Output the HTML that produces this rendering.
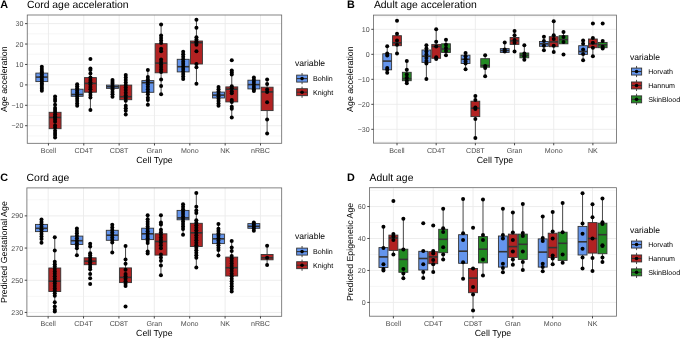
<!DOCTYPE html>
<html><head><meta charset="utf-8"><style>
html,body{margin:0;padding:0;background:#fff;}
body{width:685px;height:338px;overflow:hidden;}
svg{display:block;font-family:"Liberation Sans", sans-serif;filter:blur(0.3px);text-rendering:geometricPrecision;}
</style></head><body>
<svg width="685" height="338" viewBox="0 0 685 338">
<rect width="685" height="338" fill="#fff"/>
<line x1="27.25" y1="33.83" x2="281.7" y2="33.83" stroke="#EBEBEB" stroke-width="0.45"/>
<line x1="27.25" y1="54.25" x2="281.7" y2="54.25" stroke="#EBEBEB" stroke-width="0.45"/>
<line x1="27.25" y1="74.67" x2="281.7" y2="74.67" stroke="#EBEBEB" stroke-width="0.45"/>
<line x1="27.25" y1="95.09" x2="281.7" y2="95.09" stroke="#EBEBEB" stroke-width="0.45"/>
<line x1="27.25" y1="115.51" x2="281.7" y2="115.51" stroke="#EBEBEB" stroke-width="0.45"/>
<line x1="27.25" y1="135.93" x2="281.7" y2="135.93" stroke="#EBEBEB" stroke-width="0.45"/>
<line x1="27.25" y1="23.62" x2="281.7" y2="23.62" stroke="#EBEBEB" stroke-width="0.9"/>
<line x1="27.25" y1="44.04" x2="281.7" y2="44.04" stroke="#EBEBEB" stroke-width="0.9"/>
<line x1="27.25" y1="64.46" x2="281.7" y2="64.46" stroke="#EBEBEB" stroke-width="0.9"/>
<line x1="27.25" y1="84.88" x2="281.7" y2="84.88" stroke="#EBEBEB" stroke-width="0.9"/>
<line x1="27.25" y1="105.3" x2="281.7" y2="105.3" stroke="#EBEBEB" stroke-width="0.9"/>
<line x1="27.25" y1="125.72" x2="281.7" y2="125.72" stroke="#EBEBEB" stroke-width="0.9"/>
<line x1="48.45" y1="15" x2="48.45" y2="143.3" stroke="#EBEBEB" stroke-width="0.9"/>
<line x1="83.79" y1="15" x2="83.79" y2="143.3" stroke="#EBEBEB" stroke-width="0.9"/>
<line x1="119.13" y1="15" x2="119.13" y2="143.3" stroke="#EBEBEB" stroke-width="0.9"/>
<line x1="154.48" y1="15" x2="154.48" y2="143.3" stroke="#EBEBEB" stroke-width="0.9"/>
<line x1="189.82" y1="15" x2="189.82" y2="143.3" stroke="#EBEBEB" stroke-width="0.9"/>
<line x1="225.16" y1="15" x2="225.16" y2="143.3" stroke="#EBEBEB" stroke-width="0.9"/>
<line x1="260.5" y1="15" x2="260.5" y2="143.3" stroke="#EBEBEB" stroke-width="0.9"/>
<line x1="41.83" y1="66.8" x2="41.83" y2="73.1" stroke="#333333" stroke-width="0.9"/>
<line x1="41.83" y1="81.6" x2="41.83" y2="90.8" stroke="#333333" stroke-width="0.9"/>
<rect x="35.86" y="73.1" width="11.93" height="8.5" fill="#6495ED" stroke="#333333" stroke-width="0.9"/>
<line x1="35.86" y1="77.1" x2="47.79" y2="77.1" stroke="#333333" stroke-width="1.6"/>
<line x1="55.08" y1="96.6" x2="55.08" y2="112.3" stroke="#333333" stroke-width="0.9"/>
<line x1="55.08" y1="128.7" x2="55.08" y2="137.6" stroke="#333333" stroke-width="0.9"/>
<rect x="49.12" y="112.3" width="11.93" height="16.4" fill="#B22222" stroke="#333333" stroke-width="0.9"/>
<line x1="49.12" y1="117.5" x2="61.04" y2="117.5" stroke="#333333" stroke-width="1.6"/>
<line x1="77.17" y1="84.2" x2="77.17" y2="89.2" stroke="#333333" stroke-width="0.9"/>
<line x1="77.17" y1="96.3" x2="77.17" y2="105.7" stroke="#333333" stroke-width="0.9"/>
<rect x="71.2" y="89.2" width="11.93" height="7.1" fill="#6495ED" stroke="#333333" stroke-width="0.9"/>
<line x1="71.2" y1="94.5" x2="83.13" y2="94.5" stroke="#333333" stroke-width="1.6"/>
<line x1="90.42" y1="68.4" x2="90.42" y2="77.6" stroke="#333333" stroke-width="0.9"/>
<line x1="90.42" y1="92.2" x2="90.42" y2="109.9" stroke="#333333" stroke-width="0.9"/>
<rect x="84.46" y="77.6" width="11.93" height="14.6" fill="#B22222" stroke="#333333" stroke-width="0.9"/>
<line x1="84.46" y1="83.4" x2="96.38" y2="83.4" stroke="#333333" stroke-width="1.6"/>
<line x1="112.51" y1="80.1" x2="112.51" y2="85.1" stroke="#333333" stroke-width="0.9"/>
<line x1="112.51" y1="88.4" x2="112.51" y2="96.7" stroke="#333333" stroke-width="0.9"/>
<rect x="106.54" y="85.1" width="11.93" height="3.3" fill="#6495ED" stroke="#333333" stroke-width="0.9"/>
<line x1="106.54" y1="86.7" x2="118.47" y2="86.7" stroke="#333333" stroke-width="1.6"/>
<line x1="125.76" y1="75.1" x2="125.76" y2="85.1" stroke="#333333" stroke-width="0.9"/>
<line x1="125.76" y1="99.7" x2="125.76" y2="114.6" stroke="#333333" stroke-width="0.9"/>
<rect x="119.8" y="85.1" width="11.93" height="14.6" fill="#B22222" stroke="#333333" stroke-width="0.9"/>
<line x1="119.8" y1="96.7" x2="131.72" y2="96.7" stroke="#333333" stroke-width="1.6"/>
<line x1="147.85" y1="70" x2="147.85" y2="80.6" stroke="#333333" stroke-width="0.9"/>
<line x1="147.85" y1="92.3" x2="147.85" y2="104.8" stroke="#333333" stroke-width="0.9"/>
<rect x="141.89" y="80.6" width="11.93" height="11.7" fill="#6495ED" stroke="#333333" stroke-width="0.9"/>
<line x1="141.89" y1="82.7" x2="153.81" y2="82.7" stroke="#333333" stroke-width="1.6"/>
<line x1="161.1" y1="24.6" x2="161.1" y2="43.7" stroke="#333333" stroke-width="0.9"/>
<line x1="161.1" y1="72.8" x2="161.1" y2="94.3" stroke="#333333" stroke-width="0.9"/>
<rect x="155.14" y="43.7" width="11.93" height="29.1" fill="#B22222" stroke="#333333" stroke-width="0.9"/>
<line x1="155.14" y1="63.1" x2="167.06" y2="63.1" stroke="#333333" stroke-width="1.6"/>
<line x1="183.19" y1="51.8" x2="183.19" y2="59.3" stroke="#333333" stroke-width="0.9"/>
<line x1="183.19" y1="71.9" x2="183.19" y2="78.9" stroke="#333333" stroke-width="0.9"/>
<rect x="177.23" y="59.3" width="11.93" height="12.6" fill="#6495ED" stroke="#333333" stroke-width="0.9"/>
<line x1="177.23" y1="66.7" x2="189.15" y2="66.7" stroke="#333333" stroke-width="1.6"/>
<line x1="196.44" y1="19.8" x2="196.44" y2="41" stroke="#333333" stroke-width="0.9"/>
<line x1="196.44" y1="64" x2="196.44" y2="83.8" stroke="#333333" stroke-width="0.9"/>
<rect x="190.48" y="41" width="11.93" height="23" fill="#B22222" stroke="#333333" stroke-width="0.9"/>
<line x1="190.48" y1="42.7" x2="202.41" y2="42.7" stroke="#333333" stroke-width="1.6"/>
<line x1="218.53" y1="86.9" x2="218.53" y2="92.1" stroke="#333333" stroke-width="0.9"/>
<line x1="218.53" y1="98" x2="218.53" y2="105.8" stroke="#333333" stroke-width="0.9"/>
<rect x="212.57" y="92.1" width="11.93" height="5.9" fill="#6495ED" stroke="#333333" stroke-width="0.9"/>
<line x1="212.57" y1="95.1" x2="224.49" y2="95.1" stroke="#333333" stroke-width="1.6"/>
<line x1="231.78" y1="70.6" x2="231.78" y2="86.9" stroke="#333333" stroke-width="0.9"/>
<line x1="231.78" y1="101.9" x2="231.78" y2="117.5" stroke="#333333" stroke-width="0.9"/>
<rect x="225.82" y="86.9" width="11.93" height="15" fill="#B22222" stroke="#333333" stroke-width="0.9"/>
<line x1="225.82" y1="89.2" x2="237.75" y2="89.2" stroke="#333333" stroke-width="1.6"/>
<line x1="253.87" y1="77.4" x2="253.87" y2="80.2" stroke="#333333" stroke-width="0.9"/>
<line x1="253.87" y1="88.9" x2="253.87" y2="91.1" stroke="#333333" stroke-width="0.9"/>
<rect x="247.91" y="80.2" width="11.93" height="8.7" fill="#6495ED" stroke="#333333" stroke-width="0.9"/>
<line x1="247.91" y1="84.6" x2="259.83" y2="84.6" stroke="#333333" stroke-width="1.6"/>
<line x1="267.12" y1="79.4" x2="267.12" y2="87.2" stroke="#333333" stroke-width="0.9"/>
<line x1="267.12" y1="110.6" x2="267.12" y2="133.5" stroke="#333333" stroke-width="0.9"/>
<rect x="261.16" y="87.2" width="11.93" height="23.4" fill="#B22222" stroke="#333333" stroke-width="0.9"/>
<line x1="261.16" y1="91.9" x2="273.09" y2="91.9" stroke="#333333" stroke-width="1.6"/>
<circle cx="41.83" cy="66.8" r="2.0" fill="#000"/>
<circle cx="41.83" cy="68.9" r="2.0" fill="#000"/>
<circle cx="41.83" cy="71" r="2.0" fill="#000"/>
<circle cx="41.83" cy="72.6" r="2.0" fill="#000"/>
<circle cx="41.83" cy="74.4" r="2.0" fill="#000"/>
<circle cx="41.83" cy="76.2" r="2.0" fill="#000"/>
<circle cx="41.83" cy="78" r="2.0" fill="#000"/>
<circle cx="41.83" cy="79.8" r="2.0" fill="#000"/>
<circle cx="41.83" cy="81.6" r="2.0" fill="#000"/>
<circle cx="41.83" cy="83.4" r="2.0" fill="#000"/>
<circle cx="41.83" cy="85" r="2.0" fill="#000"/>
<circle cx="41.83" cy="86.93" r="2.0" fill="#000"/>
<circle cx="41.83" cy="88.87" r="2.0" fill="#000"/>
<circle cx="41.83" cy="90.8" r="2.0" fill="#000"/>
<circle cx="55.08" cy="96.6" r="2.0" fill="#000"/>
<circle cx="55.08" cy="98.9" r="2.0" fill="#000"/>
<circle cx="55.08" cy="101.1" r="2.0" fill="#000"/>
<circle cx="55.08" cy="104.8" r="2.0" fill="#000"/>
<circle cx="55.08" cy="108" r="2.0" fill="#000"/>
<circle cx="55.08" cy="110" r="2.0" fill="#000"/>
<circle cx="55.08" cy="112" r="2.0" fill="#000"/>
<circle cx="55.08" cy="114.25" r="2.0" fill="#000"/>
<circle cx="55.08" cy="116.5" r="2.0" fill="#000"/>
<circle cx="55.08" cy="117.4" r="2.0" fill="#000"/>
<circle cx="55.08" cy="119.6" r="2.0" fill="#000"/>
<circle cx="55.08" cy="121.8" r="2.0" fill="#000"/>
<circle cx="55.08" cy="125.5" r="2.0" fill="#000"/>
<circle cx="55.08" cy="127.7" r="2.0" fill="#000"/>
<circle cx="55.08" cy="130.7" r="2.0" fill="#000"/>
<circle cx="55.08" cy="132.9" r="2.0" fill="#000"/>
<circle cx="55.08" cy="135.1" r="2.0" fill="#000"/>
<circle cx="55.08" cy="137.6" r="2.0" fill="#000"/>
<circle cx="77.17" cy="84.2" r="2.0" fill="#000"/>
<circle cx="77.17" cy="86.27" r="2.0" fill="#000"/>
<circle cx="77.17" cy="88.33" r="2.0" fill="#000"/>
<circle cx="77.17" cy="90.4" r="2.0" fill="#000"/>
<circle cx="77.17" cy="92.47" r="2.0" fill="#000"/>
<circle cx="77.17" cy="94.53" r="2.0" fill="#000"/>
<circle cx="77.17" cy="96.6" r="2.0" fill="#000"/>
<circle cx="77.17" cy="98.8" r="2.0" fill="#000"/>
<circle cx="77.17" cy="101.1" r="2.0" fill="#000"/>
<circle cx="77.17" cy="103.6" r="2.0" fill="#000"/>
<circle cx="77.17" cy="105.7" r="2.0" fill="#000"/>
<circle cx="90.42" cy="59" r="2.0" fill="#000"/>
<circle cx="90.42" cy="68.4" r="2.0" fill="#000"/>
<circle cx="90.42" cy="70.1" r="2.0" fill="#000"/>
<circle cx="90.42" cy="73.4" r="2.0" fill="#000"/>
<circle cx="90.42" cy="77.6" r="2.0" fill="#000"/>
<circle cx="90.42" cy="80" r="2.0" fill="#000"/>
<circle cx="90.42" cy="82.3" r="2.0" fill="#000"/>
<circle cx="90.42" cy="84.6" r="2.0" fill="#000"/>
<circle cx="90.42" cy="86.9" r="2.0" fill="#000"/>
<circle cx="90.42" cy="89.2" r="2.0" fill="#000"/>
<circle cx="90.42" cy="92.5" r="2.0" fill="#000"/>
<circle cx="90.42" cy="95" r="2.0" fill="#000"/>
<circle cx="90.42" cy="97.5" r="2.0" fill="#000"/>
<circle cx="90.42" cy="109.9" r="2.0" fill="#000"/>
<circle cx="112.51" cy="80.1" r="2.0" fill="#000"/>
<circle cx="112.51" cy="81.97" r="2.0" fill="#000"/>
<circle cx="112.51" cy="83.85" r="2.0" fill="#000"/>
<circle cx="112.51" cy="85.72" r="2.0" fill="#000"/>
<circle cx="112.51" cy="87.6" r="2.0" fill="#000"/>
<circle cx="112.51" cy="89.6" r="2.0" fill="#000"/>
<circle cx="112.51" cy="91.97" r="2.0" fill="#000"/>
<circle cx="112.51" cy="94.33" r="2.0" fill="#000"/>
<circle cx="112.51" cy="96.7" r="2.0" fill="#000"/>
<circle cx="125.76" cy="75.1" r="2.0" fill="#000"/>
<circle cx="125.76" cy="77.6" r="2.0" fill="#000"/>
<circle cx="125.76" cy="80.1" r="2.0" fill="#000"/>
<circle cx="125.76" cy="82.6" r="2.0" fill="#000"/>
<circle cx="125.76" cy="85.1" r="2.0" fill="#000"/>
<circle cx="125.76" cy="87.6" r="2.0" fill="#000"/>
<circle cx="125.76" cy="90" r="2.0" fill="#000"/>
<circle cx="125.76" cy="92.7" r="2.0" fill="#000"/>
<circle cx="125.76" cy="95.4" r="2.0" fill="#000"/>
<circle cx="125.76" cy="98.1" r="2.0" fill="#000"/>
<circle cx="125.76" cy="100.8" r="2.0" fill="#000"/>
<circle cx="125.76" cy="105.8" r="2.0" fill="#000"/>
<circle cx="125.76" cy="108.3" r="2.0" fill="#000"/>
<circle cx="125.76" cy="110.8" r="2.0" fill="#000"/>
<circle cx="125.76" cy="114.6" r="2.0" fill="#000"/>
<circle cx="147.85" cy="70" r="2.0" fill="#000"/>
<circle cx="147.85" cy="76.9" r="2.0" fill="#000"/>
<circle cx="147.85" cy="79.39" r="2.0" fill="#000"/>
<circle cx="147.85" cy="81.87" r="2.0" fill="#000"/>
<circle cx="147.85" cy="84.36" r="2.0" fill="#000"/>
<circle cx="147.85" cy="86.84" r="2.0" fill="#000"/>
<circle cx="147.85" cy="89.33" r="2.0" fill="#000"/>
<circle cx="147.85" cy="91.81" r="2.0" fill="#000"/>
<circle cx="147.85" cy="94.3" r="2.0" fill="#000"/>
<circle cx="147.85" cy="97.7" r="2.0" fill="#000"/>
<circle cx="147.85" cy="100.1" r="2.0" fill="#000"/>
<circle cx="147.85" cy="104.8" r="2.0" fill="#000"/>
<circle cx="161.1" cy="24.6" r="2.0" fill="#000"/>
<circle cx="161.1" cy="35.4" r="2.0" fill="#000"/>
<circle cx="161.1" cy="37.9" r="2.0" fill="#000"/>
<circle cx="161.1" cy="40.4" r="2.0" fill="#000"/>
<circle cx="161.1" cy="42.9" r="2.0" fill="#000"/>
<circle cx="161.1" cy="48.7" r="2.0" fill="#000"/>
<circle cx="161.1" cy="51.2" r="2.0" fill="#000"/>
<circle cx="161.1" cy="59.5" r="2.0" fill="#000"/>
<circle cx="161.1" cy="62" r="2.0" fill="#000"/>
<circle cx="161.1" cy="64.5" r="2.0" fill="#000"/>
<circle cx="161.1" cy="67" r="2.0" fill="#000"/>
<circle cx="161.1" cy="69.5" r="2.0" fill="#000"/>
<circle cx="161.1" cy="71.9" r="2.0" fill="#000"/>
<circle cx="161.1" cy="79.4" r="2.0" fill="#000"/>
<circle cx="161.1" cy="86" r="2.0" fill="#000"/>
<circle cx="161.1" cy="94.3" r="2.0" fill="#000"/>
<circle cx="183.19" cy="51.8" r="2.0" fill="#000"/>
<circle cx="183.19" cy="54.26" r="2.0" fill="#000"/>
<circle cx="183.19" cy="56.73" r="2.0" fill="#000"/>
<circle cx="183.19" cy="59.19" r="2.0" fill="#000"/>
<circle cx="183.19" cy="61.65" r="2.0" fill="#000"/>
<circle cx="183.19" cy="64.12" r="2.0" fill="#000"/>
<circle cx="183.19" cy="66.58" r="2.0" fill="#000"/>
<circle cx="183.19" cy="69.05" r="2.0" fill="#000"/>
<circle cx="183.19" cy="71.51" r="2.0" fill="#000"/>
<circle cx="183.19" cy="73.97" r="2.0" fill="#000"/>
<circle cx="183.19" cy="76.44" r="2.0" fill="#000"/>
<circle cx="183.19" cy="78.9" r="2.0" fill="#000"/>
<circle cx="196.44" cy="19.8" r="2.0" fill="#000"/>
<circle cx="196.44" cy="27.7" r="2.0" fill="#000"/>
<circle cx="196.44" cy="37.3" r="2.0" fill="#000"/>
<circle cx="196.44" cy="39.5" r="2.0" fill="#000"/>
<circle cx="196.44" cy="41.6" r="2.0" fill="#000"/>
<circle cx="196.44" cy="42.8" r="2.0" fill="#000"/>
<circle cx="196.44" cy="44.8" r="2.0" fill="#000"/>
<circle cx="196.44" cy="51.2" r="2.0" fill="#000"/>
<circle cx="196.44" cy="64" r="2.0" fill="#000"/>
<circle cx="196.44" cy="67.2" r="2.0" fill="#000"/>
<circle cx="196.44" cy="83.8" r="2.0" fill="#000"/>
<circle cx="218.53" cy="86.9" r="2.0" fill="#000"/>
<circle cx="218.53" cy="89.26" r="2.0" fill="#000"/>
<circle cx="218.53" cy="91.62" r="2.0" fill="#000"/>
<circle cx="218.53" cy="93.99" r="2.0" fill="#000"/>
<circle cx="218.53" cy="96.35" r="2.0" fill="#000"/>
<circle cx="218.53" cy="98.71" r="2.0" fill="#000"/>
<circle cx="218.53" cy="101.08" r="2.0" fill="#000"/>
<circle cx="218.53" cy="103.44" r="2.0" fill="#000"/>
<circle cx="218.53" cy="105.8" r="2.0" fill="#000"/>
<circle cx="231.78" cy="60.3" r="2.0" fill="#000"/>
<circle cx="231.78" cy="70.6" r="2.0" fill="#000"/>
<circle cx="231.78" cy="72.6" r="2.0" fill="#000"/>
<circle cx="231.78" cy="74.6" r="2.0" fill="#000"/>
<circle cx="231.78" cy="86.3" r="2.0" fill="#000"/>
<circle cx="231.78" cy="88.3" r="2.0" fill="#000"/>
<circle cx="231.78" cy="91.2" r="2.0" fill="#000"/>
<circle cx="231.78" cy="93.2" r="2.0" fill="#000"/>
<circle cx="231.78" cy="100" r="2.0" fill="#000"/>
<circle cx="231.78" cy="102" r="2.0" fill="#000"/>
<circle cx="231.78" cy="106.8" r="2.0" fill="#000"/>
<circle cx="231.78" cy="108.7" r="2.0" fill="#000"/>
<circle cx="231.78" cy="117.5" r="2.0" fill="#000"/>
<circle cx="253.87" cy="77.4" r="2.0" fill="#000"/>
<circle cx="253.87" cy="79.8" r="2.0" fill="#000"/>
<circle cx="253.87" cy="82.1" r="2.0" fill="#000"/>
<circle cx="253.87" cy="84.6" r="2.0" fill="#000"/>
<circle cx="253.87" cy="86.9" r="2.0" fill="#000"/>
<circle cx="253.87" cy="89.2" r="2.0" fill="#000"/>
<circle cx="253.87" cy="91.1" r="2.0" fill="#000"/>
<circle cx="267.12" cy="79.4" r="2.0" fill="#000"/>
<circle cx="267.12" cy="84.1" r="2.0" fill="#000"/>
<circle cx="267.12" cy="89.5" r="2.0" fill="#000"/>
<circle cx="267.12" cy="91.9" r="2.0" fill="#000"/>
<circle cx="267.12" cy="102.2" r="2.0" fill="#000"/>
<circle cx="267.12" cy="119.4" r="2.0" fill="#000"/>
<circle cx="267.12" cy="133.5" r="2.0" fill="#000"/>
<rect x="27.25" y="15" width="254.45" height="128.3" fill="none" stroke="#666666" stroke-width="0.8"/>
<line x1="25.05" y1="23.62" x2="27.25" y2="23.62" stroke="#333333" stroke-width="0.9"/>
<text x="23.45" y="26.17" font-size="7.1" fill="#4D4D4D" text-anchor="end" font-weight="normal">30</text>
<line x1="25.05" y1="44.04" x2="27.25" y2="44.04" stroke="#333333" stroke-width="0.9"/>
<text x="23.45" y="46.59" font-size="7.1" fill="#4D4D4D" text-anchor="end" font-weight="normal">20</text>
<line x1="25.05" y1="64.46" x2="27.25" y2="64.46" stroke="#333333" stroke-width="0.9"/>
<text x="23.45" y="67.01" font-size="7.1" fill="#4D4D4D" text-anchor="end" font-weight="normal">10</text>
<line x1="25.05" y1="84.88" x2="27.25" y2="84.88" stroke="#333333" stroke-width="0.9"/>
<text x="23.45" y="87.43" font-size="7.1" fill="#4D4D4D" text-anchor="end" font-weight="normal">0</text>
<line x1="25.05" y1="105.3" x2="27.25" y2="105.3" stroke="#333333" stroke-width="0.9"/>
<text x="23.45" y="107.85" font-size="7.1" fill="#4D4D4D" text-anchor="end" font-weight="normal">&#8722;10</text>
<line x1="25.05" y1="125.72" x2="27.25" y2="125.72" stroke="#333333" stroke-width="0.9"/>
<text x="23.45" y="128.27" font-size="7.1" fill="#4D4D4D" text-anchor="end" font-weight="normal">&#8722;20</text>
<line x1="48.45" y1="143.3" x2="48.45" y2="145.5" stroke="#333333" stroke-width="0.9"/>
<text x="48.45" y="152.9" font-size="7.1" fill="#4D4D4D" text-anchor="middle" font-weight="normal">Bcell</text>
<line x1="83.79" y1="143.3" x2="83.79" y2="145.5" stroke="#333333" stroke-width="0.9"/>
<text x="83.79" y="152.9" font-size="7.1" fill="#4D4D4D" text-anchor="middle" font-weight="normal">CD4T</text>
<line x1="119.13" y1="143.3" x2="119.13" y2="145.5" stroke="#333333" stroke-width="0.9"/>
<text x="119.13" y="152.9" font-size="7.1" fill="#4D4D4D" text-anchor="middle" font-weight="normal">CD8T</text>
<line x1="154.48" y1="143.3" x2="154.48" y2="145.5" stroke="#333333" stroke-width="0.9"/>
<text x="154.48" y="152.9" font-size="7.1" fill="#4D4D4D" text-anchor="middle" font-weight="normal">Gran</text>
<line x1="189.82" y1="143.3" x2="189.82" y2="145.5" stroke="#333333" stroke-width="0.9"/>
<text x="189.82" y="152.9" font-size="7.1" fill="#4D4D4D" text-anchor="middle" font-weight="normal">Mono</text>
<line x1="225.16" y1="143.3" x2="225.16" y2="145.5" stroke="#333333" stroke-width="0.9"/>
<text x="225.16" y="152.9" font-size="7.1" fill="#4D4D4D" text-anchor="middle" font-weight="normal">NK</text>
<line x1="260.5" y1="143.3" x2="260.5" y2="145.5" stroke="#333333" stroke-width="0.9"/>
<text x="260.5" y="152.9" font-size="7.1" fill="#4D4D4D" text-anchor="middle" font-weight="normal">nRBC</text>
<text x="154.47" y="162.8" font-size="8.8" fill="#000" text-anchor="middle" font-weight="normal">Cell Type</text>
<text x="6.6" y="79.15" font-size="8.8" fill="#000" text-anchor="middle" transform="rotate(-90 6.6 79.15)">Age acceleration</text>
<text x="26.95" y="8.4" font-size="10.4" fill="#000" text-anchor="start" font-weight="normal">Cord age acceleration</text>
<text x="0.3" y="7.8" font-size="10.8" fill="#000" text-anchor="start" font-weight="bold">A</text>
<text x="295" y="66.1" font-size="8.6" fill="#000" text-anchor="start" font-weight="normal">variable</text>
<line x1="302.05" y1="73" x2="302.05" y2="84.2" stroke="#333333" stroke-width="0.9"/>
<rect x="296.65" y="75.12" width="10.8" height="6.95" fill="#6495ED" stroke="#333333" stroke-width="0.9"/>
<line x1="296.65" y1="78.6" x2="307.45" y2="78.6" stroke="#333333" stroke-width="1.1"/>
<circle cx="302.05" cy="78.6" r="1.8" fill="#000"/>
<text x="313.1" y="81.1" font-size="7.1" fill="#000" text-anchor="start" font-weight="normal">Bohlin</text>
<line x1="302.05" y1="86.6" x2="302.05" y2="97.8" stroke="#333333" stroke-width="0.9"/>
<rect x="296.65" y="88.72" width="10.8" height="6.95" fill="#B22222" stroke="#333333" stroke-width="0.9"/>
<line x1="296.65" y1="92.2" x2="307.45" y2="92.2" stroke="#333333" stroke-width="1.1"/>
<circle cx="302.05" cy="92.2" r="1.8" fill="#000"/>
<text x="313.1" y="94.7" font-size="7.1" fill="#000" text-anchor="start" font-weight="normal">Knight</text>
<line x1="373.5" y1="16.82" x2="616.4" y2="16.82" stroke="#EBEBEB" stroke-width="0.45"/>
<line x1="373.5" y1="41.82" x2="616.4" y2="41.82" stroke="#EBEBEB" stroke-width="0.45"/>
<line x1="373.5" y1="66.82" x2="616.4" y2="66.82" stroke="#EBEBEB" stroke-width="0.45"/>
<line x1="373.5" y1="91.82" x2="616.4" y2="91.82" stroke="#EBEBEB" stroke-width="0.45"/>
<line x1="373.5" y1="116.82" x2="616.4" y2="116.82" stroke="#EBEBEB" stroke-width="0.45"/>
<line x1="373.5" y1="141.82" x2="616.4" y2="141.82" stroke="#EBEBEB" stroke-width="0.45"/>
<line x1="373.5" y1="29.32" x2="616.4" y2="29.32" stroke="#EBEBEB" stroke-width="0.9"/>
<line x1="373.5" y1="54.32" x2="616.4" y2="54.32" stroke="#EBEBEB" stroke-width="0.9"/>
<line x1="373.5" y1="79.32" x2="616.4" y2="79.32" stroke="#EBEBEB" stroke-width="0.9"/>
<line x1="373.5" y1="104.32" x2="616.4" y2="104.32" stroke="#EBEBEB" stroke-width="0.9"/>
<line x1="373.5" y1="129.32" x2="616.4" y2="129.32" stroke="#EBEBEB" stroke-width="0.9"/>
<line x1="397.01" y1="15.1" x2="397.01" y2="143.1" stroke="#EBEBEB" stroke-width="0.9"/>
<line x1="436.18" y1="15.1" x2="436.18" y2="143.1" stroke="#EBEBEB" stroke-width="0.9"/>
<line x1="475.36" y1="15.1" x2="475.36" y2="143.1" stroke="#EBEBEB" stroke-width="0.9"/>
<line x1="514.54" y1="15.1" x2="514.54" y2="143.1" stroke="#EBEBEB" stroke-width="0.9"/>
<line x1="553.72" y1="15.1" x2="553.72" y2="143.1" stroke="#EBEBEB" stroke-width="0.9"/>
<line x1="592.89" y1="15.1" x2="592.89" y2="143.1" stroke="#EBEBEB" stroke-width="0.9"/>
<line x1="387.21" y1="46.3" x2="387.21" y2="53.8" stroke="#333333" stroke-width="0.9"/>
<line x1="387.21" y1="69.8" x2="387.21" y2="72.7" stroke="#333333" stroke-width="0.9"/>
<rect x="382.8" y="53.8" width="8.81" height="16" fill="#6495ED" stroke="#333333" stroke-width="0.9"/>
<line x1="382.8" y1="61.1" x2="391.62" y2="61.1" stroke="#333333" stroke-width="1.6"/>
<line x1="397.01" y1="33.8" x2="397.01" y2="35.7" stroke="#333333" stroke-width="0.9"/>
<line x1="397.01" y1="45.7" x2="397.01" y2="53.4" stroke="#333333" stroke-width="0.9"/>
<rect x="392.6" y="35.7" width="8.81" height="10" fill="#B22222" stroke="#333333" stroke-width="0.9"/>
<line x1="392.6" y1="42.8" x2="401.41" y2="42.8" stroke="#333333" stroke-width="1.6"/>
<line x1="406.8" y1="61.1" x2="406.8" y2="72.3" stroke="#333333" stroke-width="0.9"/>
<line x1="406.8" y1="80.7" x2="406.8" y2="83.2" stroke="#333333" stroke-width="0.9"/>
<rect x="402.39" y="72.3" width="8.81" height="8.4" fill="#228B22" stroke="#333333" stroke-width="0.9"/>
<line x1="402.39" y1="78.7" x2="411.21" y2="78.7" stroke="#333333" stroke-width="1.6"/>
<line x1="426.39" y1="45.3" x2="426.39" y2="50" stroke="#333333" stroke-width="0.9"/>
<line x1="426.39" y1="62.4" x2="426.39" y2="79" stroke="#333333" stroke-width="0.9"/>
<rect x="421.98" y="50" width="8.81" height="12.4" fill="#6495ED" stroke="#333333" stroke-width="0.9"/>
<line x1="421.98" y1="56.2" x2="430.8" y2="56.2" stroke="#333333" stroke-width="1.6"/>
<line x1="436.18" y1="29.3" x2="436.18" y2="44.4" stroke="#333333" stroke-width="0.9"/>
<line x1="436.18" y1="58.3" x2="436.18" y2="58.9" stroke="#333333" stroke-width="0.9"/>
<rect x="431.78" y="44.4" width="8.81" height="13.9" fill="#B22222" stroke="#333333" stroke-width="0.9"/>
<line x1="431.78" y1="46.5" x2="440.59" y2="46.5" stroke="#333333" stroke-width="1.6"/>
<line x1="445.98" y1="39.7" x2="445.98" y2="43.8" stroke="#333333" stroke-width="0.9"/>
<line x1="445.98" y1="52.5" x2="445.98" y2="55.2" stroke="#333333" stroke-width="0.9"/>
<rect x="441.57" y="43.8" width="8.81" height="8.7" fill="#228B22" stroke="#333333" stroke-width="0.9"/>
<line x1="441.57" y1="49" x2="450.39" y2="49" stroke="#333333" stroke-width="1.6"/>
<line x1="465.57" y1="53.1" x2="465.57" y2="55.2" stroke="#333333" stroke-width="0.9"/>
<line x1="465.57" y1="63.5" x2="465.57" y2="69.3" stroke="#333333" stroke-width="0.9"/>
<rect x="461.16" y="55.2" width="8.81" height="8.3" fill="#6495ED" stroke="#333333" stroke-width="0.9"/>
<line x1="461.16" y1="59.3" x2="469.97" y2="59.3" stroke="#333333" stroke-width="1.6"/>
<line x1="475.36" y1="96" x2="475.36" y2="101.2" stroke="#333333" stroke-width="0.9"/>
<line x1="475.36" y1="116.6" x2="475.36" y2="138" stroke="#333333" stroke-width="0.9"/>
<rect x="470.95" y="101.2" width="8.81" height="15.4" fill="#B22222" stroke="#333333" stroke-width="0.9"/>
<line x1="470.95" y1="108.2" x2="479.77" y2="108.2" stroke="#333333" stroke-width="1.6"/>
<line x1="485.16" y1="55.2" x2="485.16" y2="58.7" stroke="#333333" stroke-width="0.9"/>
<line x1="485.16" y1="67.2" x2="485.16" y2="76.3" stroke="#333333" stroke-width="0.9"/>
<rect x="480.75" y="58.7" width="8.81" height="8.5" fill="#228B22" stroke="#333333" stroke-width="0.9"/>
<line x1="480.75" y1="65.5" x2="489.56" y2="65.5" stroke="#333333" stroke-width="1.6"/>
<line x1="504.74" y1="42.5" x2="504.74" y2="48.6" stroke="#333333" stroke-width="0.9"/>
<line x1="504.74" y1="52.5" x2="504.74" y2="52.5" stroke="#333333" stroke-width="0.9"/>
<rect x="500.34" y="48.6" width="8.81" height="3.9" fill="#6495ED" stroke="#333333" stroke-width="0.9"/>
<line x1="500.34" y1="50.5" x2="509.15" y2="50.5" stroke="#333333" stroke-width="1.6"/>
<line x1="514.54" y1="30.9" x2="514.54" y2="37.5" stroke="#333333" stroke-width="0.9"/>
<line x1="514.54" y1="44.4" x2="514.54" y2="51.5" stroke="#333333" stroke-width="0.9"/>
<rect x="510.13" y="37.5" width="8.81" height="6.9" fill="#B22222" stroke="#333333" stroke-width="0.9"/>
<line x1="510.13" y1="40.9" x2="518.95" y2="40.9" stroke="#333333" stroke-width="1.6"/>
<line x1="524.33" y1="45.2" x2="524.33" y2="53" stroke="#333333" stroke-width="0.9"/>
<line x1="524.33" y1="57.8" x2="524.33" y2="59.8" stroke="#333333" stroke-width="0.9"/>
<rect x="519.93" y="53" width="8.81" height="4.8" fill="#228B22" stroke="#333333" stroke-width="0.9"/>
<line x1="519.93" y1="55.3" x2="528.74" y2="55.3" stroke="#333333" stroke-width="1.6"/>
<line x1="543.92" y1="36.7" x2="543.92" y2="41.5" stroke="#333333" stroke-width="0.9"/>
<line x1="543.92" y1="46.3" x2="543.92" y2="50.2" stroke="#333333" stroke-width="0.9"/>
<rect x="539.51" y="41.5" width="8.81" height="4.8" fill="#6495ED" stroke="#333333" stroke-width="0.9"/>
<line x1="539.51" y1="43.8" x2="548.33" y2="43.8" stroke="#333333" stroke-width="1.6"/>
<line x1="553.72" y1="21.3" x2="553.72" y2="36.7" stroke="#333333" stroke-width="0.9"/>
<line x1="553.72" y1="46.7" x2="553.72" y2="52.1" stroke="#333333" stroke-width="0.9"/>
<rect x="549.31" y="36.7" width="8.81" height="10" fill="#B22222" stroke="#333333" stroke-width="0.9"/>
<line x1="549.31" y1="41.9" x2="558.12" y2="41.9" stroke="#333333" stroke-width="1.6"/>
<line x1="563.51" y1="31.9" x2="563.51" y2="35.7" stroke="#333333" stroke-width="0.9"/>
<line x1="563.51" y1="43.8" x2="563.51" y2="43.8" stroke="#333333" stroke-width="0.9"/>
<rect x="559.1" y="35.7" width="8.81" height="8.1" fill="#228B22" stroke="#333333" stroke-width="0.9"/>
<line x1="559.1" y1="39.6" x2="567.92" y2="39.6" stroke="#333333" stroke-width="1.6"/>
<line x1="583.1" y1="40.5" x2="583.1" y2="45.7" stroke="#333333" stroke-width="0.9"/>
<line x1="583.1" y1="54.4" x2="583.1" y2="60.2" stroke="#333333" stroke-width="0.9"/>
<rect x="578.69" y="45.7" width="8.81" height="8.7" fill="#6495ED" stroke="#333333" stroke-width="0.9"/>
<line x1="578.69" y1="51.5" x2="587.51" y2="51.5" stroke="#333333" stroke-width="1.6"/>
<line x1="592.89" y1="38" x2="592.89" y2="39" stroke="#333333" stroke-width="0.9"/>
<line x1="592.89" y1="47.7" x2="592.89" y2="56.3" stroke="#333333" stroke-width="0.9"/>
<rect x="588.49" y="39" width="8.81" height="8.7" fill="#B22222" stroke="#333333" stroke-width="0.9"/>
<line x1="588.49" y1="43.8" x2="597.3" y2="43.8" stroke="#333333" stroke-width="1.6"/>
<line x1="602.69" y1="40" x2="602.69" y2="42.5" stroke="#333333" stroke-width="0.9"/>
<line x1="602.69" y1="47.7" x2="602.69" y2="47.7" stroke="#333333" stroke-width="0.9"/>
<rect x="598.28" y="42.5" width="8.81" height="5.2" fill="#228B22" stroke="#333333" stroke-width="0.9"/>
<line x1="598.28" y1="44.8" x2="607.1" y2="44.8" stroke="#333333" stroke-width="1.6"/>
<circle cx="387.21" cy="46.3" r="2.0" fill="#000"/>
<circle cx="387.21" cy="53.4" r="2.0" fill="#000"/>
<circle cx="387.21" cy="55.5" r="2.0" fill="#000"/>
<circle cx="387.21" cy="68" r="2.0" fill="#000"/>
<circle cx="387.21" cy="69.8" r="2.0" fill="#000"/>
<circle cx="387.21" cy="72.7" r="2.0" fill="#000"/>
<circle cx="397.01" cy="20.7" r="2.0" fill="#000"/>
<circle cx="397.01" cy="33.8" r="2.0" fill="#000"/>
<circle cx="397.01" cy="40.6" r="2.0" fill="#000"/>
<circle cx="397.01" cy="44.8" r="2.0" fill="#000"/>
<circle cx="397.01" cy="53.4" r="2.0" fill="#000"/>
<circle cx="406.8" cy="61.1" r="2.0" fill="#000"/>
<circle cx="406.8" cy="69.8" r="2.0" fill="#000"/>
<circle cx="406.8" cy="74.6" r="2.0" fill="#000"/>
<circle cx="406.8" cy="77.8" r="2.0" fill="#000"/>
<circle cx="406.8" cy="80.7" r="2.0" fill="#000"/>
<circle cx="406.8" cy="83.2" r="2.0" fill="#000"/>
<circle cx="426.39" cy="45.3" r="2.0" fill="#000"/>
<circle cx="426.39" cy="48.5" r="2.0" fill="#000"/>
<circle cx="426.39" cy="51.5" r="2.0" fill="#000"/>
<circle cx="426.39" cy="54.5" r="2.0" fill="#000"/>
<circle cx="426.39" cy="58" r="2.0" fill="#000"/>
<circle cx="426.39" cy="61" r="2.0" fill="#000"/>
<circle cx="426.39" cy="63.5" r="2.0" fill="#000"/>
<circle cx="426.39" cy="79" r="2.0" fill="#000"/>
<circle cx="436.18" cy="29.3" r="2.0" fill="#000"/>
<circle cx="436.18" cy="41.7" r="2.0" fill="#000"/>
<circle cx="436.18" cy="46.5" r="2.0" fill="#000"/>
<circle cx="436.18" cy="57.3" r="2.0" fill="#000"/>
<circle cx="436.18" cy="58.9" r="2.0" fill="#000"/>
<circle cx="445.98" cy="39.7" r="2.0" fill="#000"/>
<circle cx="445.98" cy="44.8" r="2.0" fill="#000"/>
<circle cx="445.98" cy="47.9" r="2.0" fill="#000"/>
<circle cx="445.98" cy="51" r="2.0" fill="#000"/>
<circle cx="445.98" cy="55.2" r="2.0" fill="#000"/>
<circle cx="465.57" cy="53.1" r="2.0" fill="#000"/>
<circle cx="465.57" cy="56.2" r="2.0" fill="#000"/>
<circle cx="465.57" cy="59.3" r="2.0" fill="#000"/>
<circle cx="465.57" cy="61.4" r="2.0" fill="#000"/>
<circle cx="465.57" cy="63.5" r="2.0" fill="#000"/>
<circle cx="465.57" cy="69.3" r="2.0" fill="#000"/>
<circle cx="475.36" cy="96" r="2.0" fill="#000"/>
<circle cx="475.36" cy="99.9" r="2.0" fill="#000"/>
<circle cx="475.36" cy="107.5" r="2.0" fill="#000"/>
<circle cx="475.36" cy="108.9" r="2.0" fill="#000"/>
<circle cx="475.36" cy="119.1" r="2.0" fill="#000"/>
<circle cx="475.36" cy="138" r="2.0" fill="#000"/>
<circle cx="485.16" cy="55.2" r="2.0" fill="#000"/>
<circle cx="485.16" cy="66" r="2.0" fill="#000"/>
<circle cx="485.16" cy="68" r="2.0" fill="#000"/>
<circle cx="485.16" cy="76.3" r="2.0" fill="#000"/>
<circle cx="504.74" cy="42.5" r="2.0" fill="#000"/>
<circle cx="504.74" cy="49.6" r="2.0" fill="#000"/>
<circle cx="504.74" cy="51.5" r="2.0" fill="#000"/>
<circle cx="514.54" cy="30.9" r="2.0" fill="#000"/>
<circle cx="514.54" cy="35.2" r="2.0" fill="#000"/>
<circle cx="514.54" cy="40" r="2.0" fill="#000"/>
<circle cx="514.54" cy="42.8" r="2.0" fill="#000"/>
<circle cx="514.54" cy="51.5" r="2.0" fill="#000"/>
<circle cx="524.33" cy="45.2" r="2.0" fill="#000"/>
<circle cx="524.33" cy="53.4" r="2.0" fill="#000"/>
<circle cx="524.33" cy="56.3" r="2.0" fill="#000"/>
<circle cx="524.33" cy="59.8" r="2.0" fill="#000"/>
<circle cx="543.92" cy="36.7" r="2.0" fill="#000"/>
<circle cx="543.92" cy="40.9" r="2.0" fill="#000"/>
<circle cx="543.92" cy="45.7" r="2.0" fill="#000"/>
<circle cx="543.92" cy="50.2" r="2.0" fill="#000"/>
<circle cx="553.72" cy="21.3" r="2.0" fill="#000"/>
<circle cx="553.72" cy="35.2" r="2.0" fill="#000"/>
<circle cx="553.72" cy="39" r="2.0" fill="#000"/>
<circle cx="553.72" cy="45.7" r="2.0" fill="#000"/>
<circle cx="553.72" cy="52.1" r="2.0" fill="#000"/>
<circle cx="563.51" cy="31.9" r="2.0" fill="#000"/>
<circle cx="563.51" cy="37" r="2.0" fill="#000"/>
<circle cx="563.51" cy="41.9" r="2.0" fill="#000"/>
<circle cx="563.51" cy="54.4" r="2.0" fill="#000"/>
<circle cx="583.1" cy="40.5" r="2.0" fill="#000"/>
<circle cx="583.1" cy="43.8" r="2.0" fill="#000"/>
<circle cx="583.1" cy="49.6" r="2.0" fill="#000"/>
<circle cx="583.1" cy="54" r="2.0" fill="#000"/>
<circle cx="583.1" cy="60.2" r="2.0" fill="#000"/>
<circle cx="592.89" cy="23.6" r="2.0" fill="#000"/>
<circle cx="592.89" cy="38" r="2.0" fill="#000"/>
<circle cx="592.89" cy="42.8" r="2.0" fill="#000"/>
<circle cx="592.89" cy="47.7" r="2.0" fill="#000"/>
<circle cx="592.89" cy="56.3" r="2.0" fill="#000"/>
<circle cx="602.69" cy="23.6" r="2.0" fill="#000"/>
<circle cx="602.69" cy="40.9" r="2.0" fill="#000"/>
<circle cx="602.69" cy="46.7" r="2.0" fill="#000"/>
<circle cx="602.69" cy="48.6" r="2.0" fill="#000"/>
<rect x="373.5" y="15.1" width="242.9" height="128" fill="none" stroke="#666666" stroke-width="0.8"/>
<line x1="371.3" y1="29.32" x2="373.5" y2="29.32" stroke="#333333" stroke-width="0.9"/>
<text x="369.7" y="31.87" font-size="7.1" fill="#4D4D4D" text-anchor="end" font-weight="normal">10</text>
<line x1="371.3" y1="54.32" x2="373.5" y2="54.32" stroke="#333333" stroke-width="0.9"/>
<text x="369.7" y="56.87" font-size="7.1" fill="#4D4D4D" text-anchor="end" font-weight="normal">0</text>
<line x1="371.3" y1="79.32" x2="373.5" y2="79.32" stroke="#333333" stroke-width="0.9"/>
<text x="369.7" y="81.87" font-size="7.1" fill="#4D4D4D" text-anchor="end" font-weight="normal">&#8722;10</text>
<line x1="371.3" y1="104.32" x2="373.5" y2="104.32" stroke="#333333" stroke-width="0.9"/>
<text x="369.7" y="106.87" font-size="7.1" fill="#4D4D4D" text-anchor="end" font-weight="normal">&#8722;20</text>
<line x1="371.3" y1="129.32" x2="373.5" y2="129.32" stroke="#333333" stroke-width="0.9"/>
<text x="369.7" y="131.87" font-size="7.1" fill="#4D4D4D" text-anchor="end" font-weight="normal">&#8722;30</text>
<line x1="397.01" y1="143.1" x2="397.01" y2="145.3" stroke="#333333" stroke-width="0.9"/>
<text x="397.01" y="152.9" font-size="7.1" fill="#4D4D4D" text-anchor="middle" font-weight="normal">Bcell</text>
<line x1="436.18" y1="143.1" x2="436.18" y2="145.3" stroke="#333333" stroke-width="0.9"/>
<text x="436.18" y="152.9" font-size="7.1" fill="#4D4D4D" text-anchor="middle" font-weight="normal">CD4T</text>
<line x1="475.36" y1="143.1" x2="475.36" y2="145.3" stroke="#333333" stroke-width="0.9"/>
<text x="475.36" y="152.9" font-size="7.1" fill="#4D4D4D" text-anchor="middle" font-weight="normal">CD8T</text>
<line x1="514.54" y1="143.1" x2="514.54" y2="145.3" stroke="#333333" stroke-width="0.9"/>
<text x="514.54" y="152.9" font-size="7.1" fill="#4D4D4D" text-anchor="middle" font-weight="normal">Gran</text>
<line x1="553.72" y1="143.1" x2="553.72" y2="145.3" stroke="#333333" stroke-width="0.9"/>
<text x="553.72" y="152.9" font-size="7.1" fill="#4D4D4D" text-anchor="middle" font-weight="normal">Mono</text>
<line x1="592.89" y1="143.1" x2="592.89" y2="145.3" stroke="#333333" stroke-width="0.9"/>
<text x="592.89" y="152.9" font-size="7.1" fill="#4D4D4D" text-anchor="middle" font-weight="normal">NK</text>
<text x="494.95" y="162.8" font-size="8.8" fill="#000" text-anchor="middle" font-weight="normal">Cell Type</text>
<text x="353.2" y="79.1" font-size="8.8" fill="#000" text-anchor="middle" transform="rotate(-90 353.2 79.1)">Age acceleration</text>
<text x="373.9" y="8.4" font-size="10.4" fill="#000" text-anchor="start" font-weight="normal">Adult age acceleration</text>
<text x="347" y="7.9" font-size="10.8" fill="#000" text-anchor="start" font-weight="bold">B</text>
<text x="629.9" y="59.5" font-size="8.6" fill="#000" text-anchor="start" font-weight="normal">variable</text>
<line x1="636.55" y1="65.95" x2="636.55" y2="77.15" stroke="#333333" stroke-width="0.9"/>
<rect x="631.45" y="68.08" width="10.2" height="6.95" fill="#6495ED" stroke="#333333" stroke-width="0.9"/>
<line x1="631.45" y1="71.55" x2="641.65" y2="71.55" stroke="#333333" stroke-width="1.1"/>
<circle cx="636.55" cy="71.55" r="1.8" fill="#000"/>
<text x="648.2" y="74.05" font-size="7.1" fill="#000" text-anchor="start" font-weight="normal">Horvath</text>
<line x1="636.55" y1="79.85" x2="636.55" y2="91.05" stroke="#333333" stroke-width="0.9"/>
<rect x="631.45" y="81.98" width="10.2" height="6.95" fill="#B22222" stroke="#333333" stroke-width="0.9"/>
<line x1="631.45" y1="85.45" x2="641.65" y2="85.45" stroke="#333333" stroke-width="1.1"/>
<circle cx="636.55" cy="85.45" r="1.8" fill="#000"/>
<text x="648.2" y="87.95" font-size="7.1" fill="#000" text-anchor="start" font-weight="normal">Hannum</text>
<line x1="636.55" y1="93.75" x2="636.55" y2="104.95" stroke="#333333" stroke-width="0.9"/>
<rect x="631.45" y="95.88" width="10.2" height="6.95" fill="#228B22" stroke="#333333" stroke-width="0.9"/>
<line x1="631.45" y1="99.35" x2="641.65" y2="99.35" stroke="#333333" stroke-width="1.1"/>
<circle cx="636.55" cy="99.35" r="1.8" fill="#000"/>
<text x="648.2" y="101.85" font-size="7.1" fill="#000" text-anchor="start" font-weight="normal">SkinBlood</text>
<line x1="26.9" y1="199.77" x2="281.7" y2="199.77" stroke="#EBEBEB" stroke-width="0.45"/>
<line x1="26.9" y1="231.96" x2="281.7" y2="231.96" stroke="#EBEBEB" stroke-width="0.45"/>
<line x1="26.9" y1="264.14" x2="281.7" y2="264.14" stroke="#EBEBEB" stroke-width="0.45"/>
<line x1="26.9" y1="296.34" x2="281.7" y2="296.34" stroke="#EBEBEB" stroke-width="0.45"/>
<line x1="26.9" y1="215.86" x2="281.7" y2="215.86" stroke="#EBEBEB" stroke-width="0.9"/>
<line x1="26.9" y1="248.05" x2="281.7" y2="248.05" stroke="#EBEBEB" stroke-width="0.9"/>
<line x1="26.9" y1="280.24" x2="281.7" y2="280.24" stroke="#EBEBEB" stroke-width="0.9"/>
<line x1="26.9" y1="312.43" x2="281.7" y2="312.43" stroke="#EBEBEB" stroke-width="0.9"/>
<line x1="48.13" y1="187.9" x2="48.13" y2="316.3" stroke="#EBEBEB" stroke-width="0.9"/>
<line x1="83.52" y1="187.9" x2="83.52" y2="316.3" stroke="#EBEBEB" stroke-width="0.9"/>
<line x1="118.91" y1="187.9" x2="118.91" y2="316.3" stroke="#EBEBEB" stroke-width="0.9"/>
<line x1="154.3" y1="187.9" x2="154.3" y2="316.3" stroke="#EBEBEB" stroke-width="0.9"/>
<line x1="189.69" y1="187.9" x2="189.69" y2="316.3" stroke="#EBEBEB" stroke-width="0.9"/>
<line x1="225.08" y1="187.9" x2="225.08" y2="316.3" stroke="#EBEBEB" stroke-width="0.9"/>
<line x1="260.47" y1="187.9" x2="260.47" y2="316.3" stroke="#EBEBEB" stroke-width="0.9"/>
<line x1="41.5" y1="219.5" x2="41.5" y2="224.4" stroke="#333333" stroke-width="0.9"/>
<line x1="41.5" y1="231.6" x2="41.5" y2="238.9" stroke="#333333" stroke-width="0.9"/>
<rect x="35.53" y="224.4" width="11.94" height="7.2" fill="#6495ED" stroke="#333333" stroke-width="0.9"/>
<line x1="35.53" y1="228.3" x2="47.47" y2="228.3" stroke="#333333" stroke-width="1.6"/>
<line x1="54.77" y1="237.2" x2="54.77" y2="268" stroke="#333333" stroke-width="0.9"/>
<line x1="54.77" y1="291.5" x2="54.77" y2="311.4" stroke="#333333" stroke-width="0.9"/>
<rect x="48.8" y="268" width="11.94" height="23.5" fill="#B22222" stroke="#333333" stroke-width="0.9"/>
<line x1="48.8" y1="281.2" x2="60.74" y2="281.2" stroke="#333333" stroke-width="1.6"/>
<line x1="76.89" y1="228.4" x2="76.89" y2="236.1" stroke="#333333" stroke-width="0.9"/>
<line x1="76.89" y1="244.5" x2="76.89" y2="255.2" stroke="#333333" stroke-width="0.9"/>
<rect x="70.91" y="236.1" width="11.94" height="8.4" fill="#6495ED" stroke="#333333" stroke-width="0.9"/>
<line x1="70.91" y1="240.7" x2="82.86" y2="240.7" stroke="#333333" stroke-width="1.6"/>
<line x1="90.16" y1="246.5" x2="90.16" y2="257.8" stroke="#333333" stroke-width="0.9"/>
<line x1="90.16" y1="264.7" x2="90.16" y2="273.9" stroke="#333333" stroke-width="0.9"/>
<rect x="84.19" y="257.8" width="11.94" height="6.9" fill="#B22222" stroke="#333333" stroke-width="0.9"/>
<line x1="84.19" y1="261.2" x2="96.13" y2="261.2" stroke="#333333" stroke-width="1.6"/>
<line x1="112.28" y1="224.8" x2="112.28" y2="230.3" stroke="#333333" stroke-width="0.9"/>
<line x1="112.28" y1="240.3" x2="112.28" y2="252.6" stroke="#333333" stroke-width="0.9"/>
<rect x="106.3" y="230.3" width="11.94" height="10" fill="#6495ED" stroke="#333333" stroke-width="0.9"/>
<line x1="106.3" y1="235.2" x2="118.25" y2="235.2" stroke="#333333" stroke-width="1.6"/>
<line x1="125.55" y1="246.1" x2="125.55" y2="267.9" stroke="#333333" stroke-width="0.9"/>
<line x1="125.55" y1="282.6" x2="125.55" y2="286.1" stroke="#333333" stroke-width="0.9"/>
<rect x="119.57" y="267.9" width="11.94" height="14.7" fill="#B22222" stroke="#333333" stroke-width="0.9"/>
<line x1="119.57" y1="277.4" x2="131.52" y2="277.4" stroke="#333333" stroke-width="1.6"/>
<line x1="147.66" y1="215.2" x2="147.66" y2="228.2" stroke="#333333" stroke-width="0.9"/>
<line x1="147.66" y1="239.6" x2="147.66" y2="253.5" stroke="#333333" stroke-width="0.9"/>
<rect x="141.69" y="228.2" width="11.94" height="11.4" fill="#6495ED" stroke="#333333" stroke-width="0.9"/>
<line x1="141.69" y1="233.8" x2="153.64" y2="233.8" stroke="#333333" stroke-width="1.6"/>
<line x1="160.94" y1="215.2" x2="160.94" y2="233.8" stroke="#333333" stroke-width="0.9"/>
<line x1="160.94" y1="255.1" x2="160.94" y2="275.2" stroke="#333333" stroke-width="0.9"/>
<rect x="154.96" y="233.8" width="11.94" height="21.3" fill="#B22222" stroke="#333333" stroke-width="0.9"/>
<line x1="154.96" y1="241.5" x2="166.91" y2="241.5" stroke="#333333" stroke-width="1.6"/>
<line x1="183.05" y1="204.2" x2="183.05" y2="210.4" stroke="#333333" stroke-width="0.9"/>
<line x1="183.05" y1="219.8" x2="183.05" y2="234.8" stroke="#333333" stroke-width="0.9"/>
<rect x="177.08" y="210.4" width="11.94" height="9.4" fill="#6495ED" stroke="#333333" stroke-width="0.9"/>
<line x1="177.08" y1="217.9" x2="189.03" y2="217.9" stroke="#333333" stroke-width="1.6"/>
<line x1="196.32" y1="193" x2="196.32" y2="223.3" stroke="#333333" stroke-width="0.9"/>
<line x1="196.32" y1="246.5" x2="196.32" y2="267.6" stroke="#333333" stroke-width="0.9"/>
<rect x="190.35" y="223.3" width="11.94" height="23.2" fill="#B22222" stroke="#333333" stroke-width="0.9"/>
<line x1="190.35" y1="232.8" x2="202.3" y2="232.8" stroke="#333333" stroke-width="1.6"/>
<line x1="218.44" y1="223.9" x2="218.44" y2="234.1" stroke="#333333" stroke-width="0.9"/>
<line x1="218.44" y1="243.6" x2="218.44" y2="255.4" stroke="#333333" stroke-width="0.9"/>
<rect x="212.47" y="234.1" width="11.94" height="9.5" fill="#6495ED" stroke="#333333" stroke-width="0.9"/>
<line x1="212.47" y1="238.8" x2="224.41" y2="238.8" stroke="#333333" stroke-width="1.6"/>
<line x1="231.71" y1="241" x2="231.71" y2="257.1" stroke="#333333" stroke-width="0.9"/>
<line x1="231.71" y1="276" x2="231.71" y2="291.4" stroke="#333333" stroke-width="0.9"/>
<rect x="225.74" y="257.1" width="11.94" height="18.9" fill="#B22222" stroke="#333333" stroke-width="0.9"/>
<line x1="225.74" y1="267.7" x2="237.69" y2="267.7" stroke="#333333" stroke-width="1.6"/>
<line x1="253.83" y1="222.5" x2="253.83" y2="223.6" stroke="#333333" stroke-width="0.9"/>
<line x1="253.83" y1="228.3" x2="253.83" y2="230.8" stroke="#333333" stroke-width="0.9"/>
<rect x="247.86" y="223.6" width="11.94" height="4.7" fill="#6495ED" stroke="#333333" stroke-width="0.9"/>
<line x1="247.86" y1="226.3" x2="259.8" y2="226.3" stroke="#333333" stroke-width="1.6"/>
<line x1="267.1" y1="245.7" x2="267.1" y2="254.5" stroke="#333333" stroke-width="0.9"/>
<line x1="267.1" y1="259.8" x2="267.1" y2="265.1" stroke="#333333" stroke-width="0.9"/>
<rect x="261.13" y="254.5" width="11.94" height="5.3" fill="#B22222" stroke="#333333" stroke-width="0.9"/>
<line x1="261.13" y1="257.8" x2="273.07" y2="257.8" stroke="#333333" stroke-width="1.6"/>
<circle cx="41.5" cy="219.5" r="2.0" fill="#000"/>
<circle cx="41.5" cy="221.93" r="2.0" fill="#000"/>
<circle cx="41.5" cy="224.35" r="2.0" fill="#000"/>
<circle cx="41.5" cy="226.78" r="2.0" fill="#000"/>
<circle cx="41.5" cy="229.2" r="2.0" fill="#000"/>
<circle cx="41.5" cy="231.62" r="2.0" fill="#000"/>
<circle cx="41.5" cy="234.05" r="2.0" fill="#000"/>
<circle cx="41.5" cy="236.47" r="2.0" fill="#000"/>
<circle cx="41.5" cy="238.9" r="2.0" fill="#000"/>
<circle cx="41.5" cy="242.7" r="2.0" fill="#000"/>
<circle cx="54.77" cy="237.2" r="2.0" fill="#000"/>
<circle cx="54.77" cy="250.5" r="2.0" fill="#000"/>
<circle cx="54.77" cy="261.7" r="2.0" fill="#000"/>
<circle cx="54.77" cy="264.13" r="2.0" fill="#000"/>
<circle cx="54.77" cy="266.56" r="2.0" fill="#000"/>
<circle cx="54.77" cy="268.99" r="2.0" fill="#000"/>
<circle cx="54.77" cy="271.41" r="2.0" fill="#000"/>
<circle cx="54.77" cy="273.84" r="2.0" fill="#000"/>
<circle cx="54.77" cy="276.27" r="2.0" fill="#000"/>
<circle cx="54.77" cy="278.7" r="2.0" fill="#000"/>
<circle cx="54.77" cy="281.13" r="2.0" fill="#000"/>
<circle cx="54.77" cy="283.56" r="2.0" fill="#000"/>
<circle cx="54.77" cy="285.99" r="2.0" fill="#000"/>
<circle cx="54.77" cy="288.41" r="2.0" fill="#000"/>
<circle cx="54.77" cy="290.84" r="2.0" fill="#000"/>
<circle cx="54.77" cy="293.27" r="2.0" fill="#000"/>
<circle cx="54.77" cy="295.7" r="2.0" fill="#000"/>
<circle cx="54.77" cy="302.3" r="2.0" fill="#000"/>
<circle cx="54.77" cy="306.4" r="2.0" fill="#000"/>
<circle cx="54.77" cy="309.8" r="2.0" fill="#000"/>
<circle cx="54.77" cy="311.4" r="2.0" fill="#000"/>
<circle cx="76.89" cy="228.4" r="2.0" fill="#000"/>
<circle cx="76.89" cy="230.88" r="2.0" fill="#000"/>
<circle cx="76.89" cy="233.35" r="2.0" fill="#000"/>
<circle cx="76.89" cy="235.82" r="2.0" fill="#000"/>
<circle cx="76.89" cy="238.3" r="2.0" fill="#000"/>
<circle cx="76.89" cy="240.78" r="2.0" fill="#000"/>
<circle cx="76.89" cy="243.25" r="2.0" fill="#000"/>
<circle cx="76.89" cy="245.72" r="2.0" fill="#000"/>
<circle cx="76.89" cy="248.2" r="2.0" fill="#000"/>
<circle cx="76.89" cy="255.2" r="2.0" fill="#000"/>
<circle cx="90.16" cy="243.7" r="2.0" fill="#000"/>
<circle cx="90.16" cy="246.5" r="2.0" fill="#000"/>
<circle cx="90.16" cy="253.2" r="2.0" fill="#000"/>
<circle cx="90.16" cy="255.2" r="2.0" fill="#000"/>
<circle cx="90.16" cy="257.55" r="2.0" fill="#000"/>
<circle cx="90.16" cy="259.9" r="2.0" fill="#000"/>
<circle cx="90.16" cy="262.25" r="2.0" fill="#000"/>
<circle cx="90.16" cy="264.6" r="2.0" fill="#000"/>
<circle cx="90.16" cy="266.95" r="2.0" fill="#000"/>
<circle cx="90.16" cy="269.3" r="2.0" fill="#000"/>
<circle cx="90.16" cy="273.9" r="2.0" fill="#000"/>
<circle cx="90.16" cy="278.3" r="2.0" fill="#000"/>
<circle cx="90.16" cy="284" r="2.0" fill="#000"/>
<circle cx="112.28" cy="224.8" r="2.0" fill="#000"/>
<circle cx="112.28" cy="227.5" r="2.0" fill="#000"/>
<circle cx="112.28" cy="230" r="2.0" fill="#000"/>
<circle cx="112.28" cy="232.5" r="2.0" fill="#000"/>
<circle cx="112.28" cy="235" r="2.0" fill="#000"/>
<circle cx="112.28" cy="237.5" r="2.0" fill="#000"/>
<circle cx="112.28" cy="240" r="2.0" fill="#000"/>
<circle cx="112.28" cy="242.5" r="2.0" fill="#000"/>
<circle cx="112.28" cy="252.6" r="2.0" fill="#000"/>
<circle cx="125.55" cy="246.1" r="2.0" fill="#000"/>
<circle cx="125.55" cy="259.4" r="2.0" fill="#000"/>
<circle cx="125.55" cy="263.8" r="2.0" fill="#000"/>
<circle cx="125.55" cy="269.8" r="2.0" fill="#000"/>
<circle cx="125.55" cy="273.9" r="2.0" fill="#000"/>
<circle cx="125.55" cy="276.34" r="2.0" fill="#000"/>
<circle cx="125.55" cy="278.78" r="2.0" fill="#000"/>
<circle cx="125.55" cy="281.22" r="2.0" fill="#000"/>
<circle cx="125.55" cy="283.66" r="2.0" fill="#000"/>
<circle cx="125.55" cy="286.1" r="2.0" fill="#000"/>
<circle cx="125.55" cy="306.6" r="2.0" fill="#000"/>
<circle cx="147.66" cy="215.2" r="2.0" fill="#000"/>
<circle cx="147.66" cy="219.3" r="2.0" fill="#000"/>
<circle cx="147.66" cy="221.68" r="2.0" fill="#000"/>
<circle cx="147.66" cy="224.06" r="2.0" fill="#000"/>
<circle cx="147.66" cy="226.44" r="2.0" fill="#000"/>
<circle cx="147.66" cy="228.82" r="2.0" fill="#000"/>
<circle cx="147.66" cy="231.2" r="2.0" fill="#000"/>
<circle cx="147.66" cy="233.58" r="2.0" fill="#000"/>
<circle cx="147.66" cy="235.96" r="2.0" fill="#000"/>
<circle cx="147.66" cy="238.34" r="2.0" fill="#000"/>
<circle cx="147.66" cy="240.72" r="2.0" fill="#000"/>
<circle cx="147.66" cy="243.1" r="2.0" fill="#000"/>
<circle cx="147.66" cy="251.4" r="2.0" fill="#000"/>
<circle cx="147.66" cy="253.5" r="2.0" fill="#000"/>
<circle cx="160.94" cy="215.2" r="2.0" fill="#000"/>
<circle cx="160.94" cy="222.4" r="2.0" fill="#000"/>
<circle cx="160.94" cy="224.5" r="2.0" fill="#000"/>
<circle cx="160.94" cy="229.7" r="2.0" fill="#000"/>
<circle cx="160.94" cy="232.28" r="2.0" fill="#000"/>
<circle cx="160.94" cy="234.87" r="2.0" fill="#000"/>
<circle cx="160.94" cy="237.45" r="2.0" fill="#000"/>
<circle cx="160.94" cy="240.03" r="2.0" fill="#000"/>
<circle cx="160.94" cy="242.62" r="2.0" fill="#000"/>
<circle cx="160.94" cy="245.2" r="2.0" fill="#000"/>
<circle cx="160.94" cy="248.3" r="2.0" fill="#000"/>
<circle cx="160.94" cy="254.5" r="2.0" fill="#000"/>
<circle cx="160.94" cy="257.6" r="2.0" fill="#000"/>
<circle cx="160.94" cy="260.7" r="2.0" fill="#000"/>
<circle cx="160.94" cy="265.5" r="2.0" fill="#000"/>
<circle cx="160.94" cy="275.2" r="2.0" fill="#000"/>
<circle cx="183.05" cy="204.2" r="2.0" fill="#000"/>
<circle cx="183.05" cy="206.68" r="2.0" fill="#000"/>
<circle cx="183.05" cy="209.16" r="2.0" fill="#000"/>
<circle cx="183.05" cy="211.64" r="2.0" fill="#000"/>
<circle cx="183.05" cy="214.12" r="2.0" fill="#000"/>
<circle cx="183.05" cy="216.6" r="2.0" fill="#000"/>
<circle cx="183.05" cy="219.08" r="2.0" fill="#000"/>
<circle cx="183.05" cy="221.56" r="2.0" fill="#000"/>
<circle cx="183.05" cy="224.04" r="2.0" fill="#000"/>
<circle cx="183.05" cy="226.52" r="2.0" fill="#000"/>
<circle cx="183.05" cy="229" r="2.0" fill="#000"/>
<circle cx="183.05" cy="234.8" r="2.0" fill="#000"/>
<circle cx="196.32" cy="193" r="2.0" fill="#000"/>
<circle cx="196.32" cy="206.7" r="2.0" fill="#000"/>
<circle cx="196.32" cy="210.4" r="2.0" fill="#000"/>
<circle cx="196.32" cy="212.9" r="2.0" fill="#000"/>
<circle cx="196.32" cy="220.3" r="2.0" fill="#000"/>
<circle cx="196.32" cy="222.79" r="2.0" fill="#000"/>
<circle cx="196.32" cy="225.29" r="2.0" fill="#000"/>
<circle cx="196.32" cy="227.78" r="2.0" fill="#000"/>
<circle cx="196.32" cy="230.27" r="2.0" fill="#000"/>
<circle cx="196.32" cy="232.77" r="2.0" fill="#000"/>
<circle cx="196.32" cy="235.26" r="2.0" fill="#000"/>
<circle cx="196.32" cy="237.75" r="2.0" fill="#000"/>
<circle cx="196.32" cy="240.25" r="2.0" fill="#000"/>
<circle cx="196.32" cy="242.74" r="2.0" fill="#000"/>
<circle cx="196.32" cy="245.23" r="2.0" fill="#000"/>
<circle cx="196.32" cy="247.73" r="2.0" fill="#000"/>
<circle cx="196.32" cy="250.22" r="2.0" fill="#000"/>
<circle cx="196.32" cy="252.71" r="2.0" fill="#000"/>
<circle cx="196.32" cy="255.21" r="2.0" fill="#000"/>
<circle cx="196.32" cy="257.7" r="2.0" fill="#000"/>
<circle cx="196.32" cy="267.6" r="2.0" fill="#000"/>
<circle cx="218.44" cy="223.9" r="2.0" fill="#000"/>
<circle cx="218.44" cy="228.7" r="2.0" fill="#000"/>
<circle cx="218.44" cy="231.07" r="2.0" fill="#000"/>
<circle cx="218.44" cy="233.43" r="2.0" fill="#000"/>
<circle cx="218.44" cy="235.8" r="2.0" fill="#000"/>
<circle cx="218.44" cy="238.17" r="2.0" fill="#000"/>
<circle cx="218.44" cy="240.53" r="2.0" fill="#000"/>
<circle cx="218.44" cy="242.9" r="2.0" fill="#000"/>
<circle cx="218.44" cy="245.27" r="2.0" fill="#000"/>
<circle cx="218.44" cy="247.63" r="2.0" fill="#000"/>
<circle cx="218.44" cy="250" r="2.0" fill="#000"/>
<circle cx="218.44" cy="255.4" r="2.0" fill="#000"/>
<circle cx="231.71" cy="241" r="2.0" fill="#000"/>
<circle cx="231.71" cy="247.6" r="2.0" fill="#000"/>
<circle cx="231.71" cy="251.1" r="2.0" fill="#000"/>
<circle cx="231.71" cy="255.9" r="2.0" fill="#000"/>
<circle cx="231.71" cy="258.44" r="2.0" fill="#000"/>
<circle cx="231.71" cy="260.97" r="2.0" fill="#000"/>
<circle cx="231.71" cy="263.51" r="2.0" fill="#000"/>
<circle cx="231.71" cy="266.04" r="2.0" fill="#000"/>
<circle cx="231.71" cy="268.58" r="2.0" fill="#000"/>
<circle cx="231.71" cy="271.11" r="2.0" fill="#000"/>
<circle cx="231.71" cy="273.65" r="2.0" fill="#000"/>
<circle cx="231.71" cy="276.19" r="2.0" fill="#000"/>
<circle cx="231.71" cy="278.72" r="2.0" fill="#000"/>
<circle cx="231.71" cy="281.26" r="2.0" fill="#000"/>
<circle cx="231.71" cy="283.79" r="2.0" fill="#000"/>
<circle cx="231.71" cy="286.33" r="2.0" fill="#000"/>
<circle cx="231.71" cy="288.86" r="2.0" fill="#000"/>
<circle cx="231.71" cy="291.4" r="2.0" fill="#000"/>
<circle cx="253.83" cy="222.5" r="2.0" fill="#000"/>
<circle cx="253.83" cy="224.5" r="2.0" fill="#000"/>
<circle cx="253.83" cy="226.5" r="2.0" fill="#000"/>
<circle cx="253.83" cy="228.5" r="2.0" fill="#000"/>
<circle cx="253.83" cy="230.8" r="2.0" fill="#000"/>
<circle cx="267.1" cy="245.7" r="2.0" fill="#000"/>
<circle cx="267.1" cy="257.8" r="2.0" fill="#000"/>
<circle cx="267.1" cy="265.1" r="2.0" fill="#000"/>
<rect x="26.9" y="187.9" width="254.8" height="128.4" fill="none" stroke="#666666" stroke-width="0.8"/>
<line x1="24.7" y1="215.86" x2="26.9" y2="215.86" stroke="#333333" stroke-width="0.9"/>
<text x="23.1" y="218.41" font-size="7.1" fill="#4D4D4D" text-anchor="end" font-weight="normal">290</text>
<line x1="24.7" y1="248.05" x2="26.9" y2="248.05" stroke="#333333" stroke-width="0.9"/>
<text x="23.1" y="250.6" font-size="7.1" fill="#4D4D4D" text-anchor="end" font-weight="normal">270</text>
<line x1="24.7" y1="280.24" x2="26.9" y2="280.24" stroke="#333333" stroke-width="0.9"/>
<text x="23.1" y="282.79" font-size="7.1" fill="#4D4D4D" text-anchor="end" font-weight="normal">250</text>
<line x1="24.7" y1="312.43" x2="26.9" y2="312.43" stroke="#333333" stroke-width="0.9"/>
<text x="23.1" y="314.98" font-size="7.1" fill="#4D4D4D" text-anchor="end" font-weight="normal">230</text>
<line x1="48.13" y1="316.3" x2="48.13" y2="318.5" stroke="#333333" stroke-width="0.9"/>
<text x="48.13" y="325.9" font-size="7.1" fill="#4D4D4D" text-anchor="middle" font-weight="normal">Bcell</text>
<line x1="83.52" y1="316.3" x2="83.52" y2="318.5" stroke="#333333" stroke-width="0.9"/>
<text x="83.52" y="325.9" font-size="7.1" fill="#4D4D4D" text-anchor="middle" font-weight="normal">CD4T</text>
<line x1="118.91" y1="316.3" x2="118.91" y2="318.5" stroke="#333333" stroke-width="0.9"/>
<text x="118.91" y="325.9" font-size="7.1" fill="#4D4D4D" text-anchor="middle" font-weight="normal">CD8T</text>
<line x1="154.3" y1="316.3" x2="154.3" y2="318.5" stroke="#333333" stroke-width="0.9"/>
<text x="154.3" y="325.9" font-size="7.1" fill="#4D4D4D" text-anchor="middle" font-weight="normal">Gran</text>
<line x1="189.69" y1="316.3" x2="189.69" y2="318.5" stroke="#333333" stroke-width="0.9"/>
<text x="189.69" y="325.9" font-size="7.1" fill="#4D4D4D" text-anchor="middle" font-weight="normal">Mono</text>
<line x1="225.08" y1="316.3" x2="225.08" y2="318.5" stroke="#333333" stroke-width="0.9"/>
<text x="225.08" y="325.9" font-size="7.1" fill="#4D4D4D" text-anchor="middle" font-weight="normal">NK</text>
<line x1="260.47" y1="316.3" x2="260.47" y2="318.5" stroke="#333333" stroke-width="0.9"/>
<text x="260.47" y="325.9" font-size="7.1" fill="#4D4D4D" text-anchor="middle" font-weight="normal">nRBC</text>
<text x="154.3" y="335.9" font-size="8.8" fill="#000" text-anchor="middle" font-weight="normal">Cell Type</text>
<text x="6.6" y="252.1" font-size="8.8" fill="#000" text-anchor="middle" transform="rotate(-90 6.6 252.1)">Predicted Gestational Age</text>
<text x="26.6" y="181.4" font-size="10.4" fill="#000" text-anchor="start" font-weight="normal">Cord age</text>
<text x="0.3" y="180.8" font-size="10.8" fill="#000" text-anchor="start" font-weight="bold">C</text>
<text x="295" y="239.1" font-size="8.6" fill="#000" text-anchor="start" font-weight="normal">variable</text>
<line x1="302.05" y1="246" x2="302.05" y2="257.2" stroke="#333333" stroke-width="0.9"/>
<rect x="296.65" y="248.12" width="10.8" height="6.95" fill="#6495ED" stroke="#333333" stroke-width="0.9"/>
<line x1="296.65" y1="251.6" x2="307.45" y2="251.6" stroke="#333333" stroke-width="1.1"/>
<circle cx="302.05" cy="251.6" r="1.8" fill="#000"/>
<text x="313.1" y="254.1" font-size="7.1" fill="#000" text-anchor="start" font-weight="normal">Bohlin</text>
<line x1="302.05" y1="259.6" x2="302.05" y2="270.8" stroke="#333333" stroke-width="0.9"/>
<rect x="296.65" y="261.72" width="10.8" height="6.95" fill="#B22222" stroke="#333333" stroke-width="0.9"/>
<line x1="296.65" y1="265.2" x2="307.45" y2="265.2" stroke="#333333" stroke-width="1.1"/>
<circle cx="302.05" cy="265.2" r="1.8" fill="#000"/>
<text x="313.1" y="267.7" font-size="7.1" fill="#000" text-anchor="start" font-weight="normal">Knight</text>
<line x1="369.5" y1="190.56" x2="616.4" y2="190.56" stroke="#EBEBEB" stroke-width="0.45"/>
<line x1="369.5" y1="222.51" x2="616.4" y2="222.51" stroke="#EBEBEB" stroke-width="0.45"/>
<line x1="369.5" y1="254.47" x2="616.4" y2="254.47" stroke="#EBEBEB" stroke-width="0.45"/>
<line x1="369.5" y1="286.42" x2="616.4" y2="286.42" stroke="#EBEBEB" stroke-width="0.45"/>
<line x1="369.5" y1="206.54" x2="616.4" y2="206.54" stroke="#EBEBEB" stroke-width="0.9"/>
<line x1="369.5" y1="238.49" x2="616.4" y2="238.49" stroke="#EBEBEB" stroke-width="0.9"/>
<line x1="369.5" y1="270.45" x2="616.4" y2="270.45" stroke="#EBEBEB" stroke-width="0.9"/>
<line x1="369.5" y1="302.4" x2="616.4" y2="302.4" stroke="#EBEBEB" stroke-width="0.9"/>
<line x1="393.39" y1="187.7" x2="393.39" y2="316.2" stroke="#EBEBEB" stroke-width="0.9"/>
<line x1="433.22" y1="187.7" x2="433.22" y2="316.2" stroke="#EBEBEB" stroke-width="0.9"/>
<line x1="473.04" y1="187.7" x2="473.04" y2="316.2" stroke="#EBEBEB" stroke-width="0.9"/>
<line x1="512.86" y1="187.7" x2="512.86" y2="316.2" stroke="#EBEBEB" stroke-width="0.9"/>
<line x1="552.68" y1="187.7" x2="552.68" y2="316.2" stroke="#EBEBEB" stroke-width="0.9"/>
<line x1="592.51" y1="187.7" x2="592.51" y2="316.2" stroke="#EBEBEB" stroke-width="0.9"/>
<line x1="383.44" y1="226.8" x2="383.44" y2="247.6" stroke="#333333" stroke-width="0.9"/>
<line x1="383.44" y1="267.5" x2="383.44" y2="270.6" stroke="#333333" stroke-width="0.9"/>
<rect x="378.96" y="247.6" width="8.96" height="19.9" fill="#6495ED" stroke="#333333" stroke-width="0.9"/>
<line x1="378.96" y1="256.9" x2="387.92" y2="256.9" stroke="#333333" stroke-width="1.6"/>
<line x1="393.39" y1="235.1" x2="393.39" y2="235.1" stroke="#333333" stroke-width="0.9"/>
<line x1="393.39" y1="250.4" x2="393.39" y2="254.6" stroke="#333333" stroke-width="0.9"/>
<rect x="388.91" y="235.1" width="8.96" height="15.3" fill="#B22222" stroke="#333333" stroke-width="0.9"/>
<line x1="388.91" y1="238" x2="397.87" y2="238" stroke="#333333" stroke-width="1.6"/>
<line x1="403.35" y1="218.7" x2="403.35" y2="249.2" stroke="#333333" stroke-width="0.9"/>
<line x1="403.35" y1="272.3" x2="403.35" y2="278.3" stroke="#333333" stroke-width="0.9"/>
<rect x="398.87" y="249.2" width="8.96" height="23.1" fill="#228B22" stroke="#333333" stroke-width="0.9"/>
<line x1="398.87" y1="259.4" x2="407.83" y2="259.4" stroke="#333333" stroke-width="1.6"/>
<line x1="423.26" y1="251.3" x2="423.26" y2="251.3" stroke="#333333" stroke-width="0.9"/>
<line x1="423.26" y1="270" x2="423.26" y2="278.1" stroke="#333333" stroke-width="0.9"/>
<rect x="418.78" y="251.3" width="8.96" height="18.7" fill="#6495ED" stroke="#333333" stroke-width="0.9"/>
<line x1="418.78" y1="258.5" x2="427.74" y2="258.5" stroke="#333333" stroke-width="1.6"/>
<line x1="433.22" y1="251" x2="433.22" y2="251.7" stroke="#333333" stroke-width="0.9"/>
<line x1="433.22" y1="263.7" x2="433.22" y2="271.9" stroke="#333333" stroke-width="0.9"/>
<rect x="428.74" y="251.7" width="8.96" height="12" fill="#B22222" stroke="#333333" stroke-width="0.9"/>
<line x1="428.74" y1="256.9" x2="437.7" y2="256.9" stroke="#333333" stroke-width="1.6"/>
<line x1="443.17" y1="208.7" x2="443.17" y2="229.3" stroke="#333333" stroke-width="0.9"/>
<line x1="443.17" y1="252.7" x2="443.17" y2="259.4" stroke="#333333" stroke-width="0.9"/>
<rect x="438.69" y="229.3" width="8.96" height="23.4" fill="#228B22" stroke="#333333" stroke-width="0.9"/>
<line x1="438.69" y1="239.3" x2="447.65" y2="239.3" stroke="#333333" stroke-width="1.6"/>
<line x1="463.08" y1="198.9" x2="463.08" y2="234.7" stroke="#333333" stroke-width="0.9"/>
<line x1="463.08" y1="263.3" x2="463.08" y2="278.7" stroke="#333333" stroke-width="0.9"/>
<rect x="458.6" y="234.7" width="8.96" height="28.6" fill="#6495ED" stroke="#333333" stroke-width="0.9"/>
<line x1="458.6" y1="251.2" x2="467.56" y2="251.2" stroke="#333333" stroke-width="1.6"/>
<line x1="473.04" y1="268.5" x2="473.04" y2="268.5" stroke="#333333" stroke-width="0.9"/>
<line x1="473.04" y1="292.7" x2="473.04" y2="310.6" stroke="#333333" stroke-width="0.9"/>
<rect x="468.56" y="268.5" width="8.96" height="24.2" fill="#B22222" stroke="#333333" stroke-width="0.9"/>
<line x1="468.56" y1="278.1" x2="477.52" y2="278.1" stroke="#333333" stroke-width="1.6"/>
<line x1="482.99" y1="199.5" x2="482.99" y2="236.6" stroke="#333333" stroke-width="0.9"/>
<line x1="482.99" y1="262.9" x2="482.99" y2="275.4" stroke="#333333" stroke-width="0.9"/>
<rect x="478.51" y="236.6" width="8.96" height="26.3" fill="#228B22" stroke="#333333" stroke-width="0.9"/>
<line x1="478.51" y1="249.2" x2="487.47" y2="249.2" stroke="#333333" stroke-width="1.6"/>
<line x1="502.91" y1="208.7" x2="502.91" y2="236" stroke="#333333" stroke-width="0.9"/>
<line x1="502.91" y1="267.1" x2="502.91" y2="272.3" stroke="#333333" stroke-width="0.9"/>
<rect x="498.43" y="236" width="8.96" height="31.1" fill="#6495ED" stroke="#333333" stroke-width="0.9"/>
<line x1="498.43" y1="251.7" x2="507.39" y2="251.7" stroke="#333333" stroke-width="1.6"/>
<line x1="512.86" y1="212.6" x2="512.86" y2="234.1" stroke="#333333" stroke-width="0.9"/>
<line x1="512.86" y1="257.5" x2="512.86" y2="264.8" stroke="#333333" stroke-width="0.9"/>
<rect x="508.38" y="234.1" width="8.96" height="23.4" fill="#B22222" stroke="#333333" stroke-width="0.9"/>
<line x1="508.38" y1="246.6" x2="517.34" y2="246.6" stroke="#333333" stroke-width="1.6"/>
<line x1="522.82" y1="203.9" x2="522.82" y2="234.1" stroke="#333333" stroke-width="0.9"/>
<line x1="522.82" y1="259.4" x2="522.82" y2="270" stroke="#333333" stroke-width="0.9"/>
<rect x="518.34" y="234.1" width="8.96" height="25.3" fill="#228B22" stroke="#333333" stroke-width="0.9"/>
<line x1="518.34" y1="244.3" x2="527.3" y2="244.3" stroke="#333333" stroke-width="1.6"/>
<line x1="542.73" y1="216.4" x2="542.73" y2="238.9" stroke="#333333" stroke-width="0.9"/>
<line x1="542.73" y1="267.1" x2="542.73" y2="271.3" stroke="#333333" stroke-width="0.9"/>
<rect x="538.25" y="238.9" width="8.96" height="28.2" fill="#6495ED" stroke="#333333" stroke-width="0.9"/>
<line x1="538.25" y1="252.1" x2="547.21" y2="252.1" stroke="#333333" stroke-width="1.6"/>
<line x1="552.68" y1="212" x2="552.68" y2="233.2" stroke="#333333" stroke-width="0.9"/>
<line x1="552.68" y1="257.5" x2="552.68" y2="264.2" stroke="#333333" stroke-width="0.9"/>
<rect x="548.2" y="233.2" width="8.96" height="24.3" fill="#B22222" stroke="#333333" stroke-width="0.9"/>
<line x1="548.2" y1="247.6" x2="557.16" y2="247.6" stroke="#333333" stroke-width="1.6"/>
<line x1="562.64" y1="203" x2="562.64" y2="232.2" stroke="#333333" stroke-width="0.9"/>
<line x1="562.64" y1="260.4" x2="562.64" y2="262.7" stroke="#333333" stroke-width="0.9"/>
<rect x="558.16" y="232.2" width="8.96" height="28.2" fill="#228B22" stroke="#333333" stroke-width="0.9"/>
<line x1="558.16" y1="243.3" x2="567.12" y2="243.3" stroke="#333333" stroke-width="1.6"/>
<line x1="582.55" y1="193.3" x2="582.55" y2="226.4" stroke="#333333" stroke-width="0.9"/>
<line x1="582.55" y1="255" x2="582.55" y2="268.5" stroke="#333333" stroke-width="0.9"/>
<rect x="578.07" y="226.4" width="8.96" height="28.6" fill="#6495ED" stroke="#333333" stroke-width="0.9"/>
<line x1="578.07" y1="241.8" x2="587.03" y2="241.8" stroke="#333333" stroke-width="1.6"/>
<line x1="592.51" y1="204.3" x2="592.51" y2="222.6" stroke="#333333" stroke-width="0.9"/>
<line x1="592.51" y1="253.1" x2="592.51" y2="271" stroke="#333333" stroke-width="0.9"/>
<rect x="588.03" y="222.6" width="8.96" height="30.5" fill="#B22222" stroke="#333333" stroke-width="0.9"/>
<line x1="588.03" y1="238.5" x2="596.99" y2="238.5" stroke="#333333" stroke-width="1.6"/>
<line x1="602.46" y1="198.5" x2="602.46" y2="223.2" stroke="#333333" stroke-width="0.9"/>
<line x1="602.46" y1="253.7" x2="602.46" y2="261.9" stroke="#333333" stroke-width="0.9"/>
<rect x="597.98" y="223.2" width="8.96" height="30.5" fill="#228B22" stroke="#333333" stroke-width="0.9"/>
<line x1="597.98" y1="234.7" x2="606.94" y2="234.7" stroke="#333333" stroke-width="1.6"/>
<circle cx="383.44" cy="226.8" r="2.0" fill="#000"/>
<circle cx="383.44" cy="248" r="2.0" fill="#000"/>
<circle cx="383.44" cy="264.2" r="2.0" fill="#000"/>
<circle cx="383.44" cy="269" r="2.0" fill="#000"/>
<circle cx="383.44" cy="270.6" r="2.0" fill="#000"/>
<circle cx="393.39" cy="201" r="2.0" fill="#000"/>
<circle cx="393.39" cy="234" r="2.0" fill="#000"/>
<circle cx="393.39" cy="236.5" r="2.0" fill="#000"/>
<circle cx="393.39" cy="240" r="2.0" fill="#000"/>
<circle cx="393.39" cy="254.6" r="2.0" fill="#000"/>
<circle cx="403.35" cy="218.7" r="2.0" fill="#000"/>
<circle cx="403.35" cy="249.5" r="2.0" fill="#000"/>
<circle cx="403.35" cy="269" r="2.0" fill="#000"/>
<circle cx="403.35" cy="273.5" r="2.0" fill="#000"/>
<circle cx="403.35" cy="278.3" r="2.0" fill="#000"/>
<circle cx="423.26" cy="223.2" r="2.0" fill="#000"/>
<circle cx="423.26" cy="251" r="2.0" fill="#000"/>
<circle cx="423.26" cy="264.2" r="2.0" fill="#000"/>
<circle cx="423.26" cy="271.9" r="2.0" fill="#000"/>
<circle cx="423.26" cy="278.1" r="2.0" fill="#000"/>
<circle cx="433.22" cy="225.5" r="2.0" fill="#000"/>
<circle cx="433.22" cy="251" r="2.0" fill="#000"/>
<circle cx="433.22" cy="253.5" r="2.0" fill="#000"/>
<circle cx="433.22" cy="260" r="2.0" fill="#000"/>
<circle cx="433.22" cy="264.2" r="2.0" fill="#000"/>
<circle cx="433.22" cy="271.9" r="2.0" fill="#000"/>
<circle cx="443.17" cy="208.7" r="2.0" fill="#000"/>
<circle cx="443.17" cy="228.3" r="2.0" fill="#000"/>
<circle cx="443.17" cy="232" r="2.0" fill="#000"/>
<circle cx="443.17" cy="247.2" r="2.0" fill="#000"/>
<circle cx="443.17" cy="254.6" r="2.0" fill="#000"/>
<circle cx="443.17" cy="259.4" r="2.0" fill="#000"/>
<circle cx="463.08" cy="198.9" r="2.0" fill="#000"/>
<circle cx="463.08" cy="233.2" r="2.0" fill="#000"/>
<circle cx="463.08" cy="239.9" r="2.0" fill="#000"/>
<circle cx="463.08" cy="262.3" r="2.0" fill="#000"/>
<circle cx="463.08" cy="278.7" r="2.0" fill="#000"/>
<circle cx="473.04" cy="227.8" r="2.0" fill="#000"/>
<circle cx="473.04" cy="268.5" r="2.0" fill="#000"/>
<circle cx="473.04" cy="286.9" r="2.0" fill="#000"/>
<circle cx="473.04" cy="294.6" r="2.0" fill="#000"/>
<circle cx="473.04" cy="310.6" r="2.0" fill="#000"/>
<circle cx="482.99" cy="199.5" r="2.0" fill="#000"/>
<circle cx="482.99" cy="235" r="2.0" fill="#000"/>
<circle cx="482.99" cy="239.9" r="2.0" fill="#000"/>
<circle cx="482.99" cy="259.4" r="2.0" fill="#000"/>
<circle cx="482.99" cy="275.4" r="2.0" fill="#000"/>
<circle cx="502.91" cy="208.7" r="2.0" fill="#000"/>
<circle cx="502.91" cy="235" r="2.0" fill="#000"/>
<circle cx="502.91" cy="238.5" r="2.0" fill="#000"/>
<circle cx="502.91" cy="263.7" r="2.0" fill="#000"/>
<circle cx="502.91" cy="268" r="2.0" fill="#000"/>
<circle cx="502.91" cy="272.3" r="2.0" fill="#000"/>
<circle cx="512.86" cy="212.6" r="2.0" fill="#000"/>
<circle cx="512.86" cy="232.5" r="2.0" fill="#000"/>
<circle cx="512.86" cy="239.9" r="2.0" fill="#000"/>
<circle cx="512.86" cy="251.4" r="2.0" fill="#000"/>
<circle cx="512.86" cy="259.4" r="2.0" fill="#000"/>
<circle cx="512.86" cy="264.8" r="2.0" fill="#000"/>
<circle cx="522.82" cy="203.9" r="2.0" fill="#000"/>
<circle cx="522.82" cy="233" r="2.0" fill="#000"/>
<circle cx="522.82" cy="236" r="2.0" fill="#000"/>
<circle cx="522.82" cy="251.4" r="2.0" fill="#000"/>
<circle cx="522.82" cy="261.9" r="2.0" fill="#000"/>
<circle cx="522.82" cy="270" r="2.0" fill="#000"/>
<circle cx="542.73" cy="216.4" r="2.0" fill="#000"/>
<circle cx="542.73" cy="238" r="2.0" fill="#000"/>
<circle cx="542.73" cy="240.9" r="2.0" fill="#000"/>
<circle cx="542.73" cy="263.7" r="2.0" fill="#000"/>
<circle cx="542.73" cy="267.1" r="2.0" fill="#000"/>
<circle cx="542.73" cy="271.3" r="2.0" fill="#000"/>
<circle cx="552.68" cy="212" r="2.0" fill="#000"/>
<circle cx="552.68" cy="231.6" r="2.0" fill="#000"/>
<circle cx="552.68" cy="238.5" r="2.0" fill="#000"/>
<circle cx="552.68" cy="255.6" r="2.0" fill="#000"/>
<circle cx="552.68" cy="258.5" r="2.0" fill="#000"/>
<circle cx="552.68" cy="264.2" r="2.0" fill="#000"/>
<circle cx="562.64" cy="203" r="2.0" fill="#000"/>
<circle cx="562.64" cy="232.2" r="2.0" fill="#000"/>
<circle cx="562.64" cy="254.6" r="2.0" fill="#000"/>
<circle cx="562.64" cy="262.7" r="2.0" fill="#000"/>
<circle cx="582.55" cy="193.3" r="2.0" fill="#000"/>
<circle cx="582.55" cy="223.5" r="2.0" fill="#000"/>
<circle cx="582.55" cy="233.7" r="2.0" fill="#000"/>
<circle cx="582.55" cy="248.8" r="2.0" fill="#000"/>
<circle cx="582.55" cy="257.5" r="2.0" fill="#000"/>
<circle cx="582.55" cy="268.5" r="2.0" fill="#000"/>
<circle cx="592.51" cy="204.3" r="2.0" fill="#000"/>
<circle cx="592.51" cy="217.2" r="2.0" fill="#000"/>
<circle cx="592.51" cy="238.5" r="2.0" fill="#000"/>
<circle cx="592.51" cy="258.1" r="2.0" fill="#000"/>
<circle cx="592.51" cy="271" r="2.0" fill="#000"/>
<circle cx="602.46" cy="198.5" r="2.0" fill="#000"/>
<circle cx="602.46" cy="222.2" r="2.0" fill="#000"/>
<circle cx="602.46" cy="224.1" r="2.0" fill="#000"/>
<circle cx="602.46" cy="245.3" r="2.0" fill="#000"/>
<circle cx="602.46" cy="246" r="2.0" fill="#000"/>
<circle cx="602.46" cy="257.5" r="2.0" fill="#000"/>
<circle cx="602.46" cy="261.9" r="2.0" fill="#000"/>
<rect x="369.5" y="187.7" width="246.9" height="128.5" fill="none" stroke="#666666" stroke-width="0.8"/>
<line x1="367.3" y1="206.54" x2="369.5" y2="206.54" stroke="#333333" stroke-width="0.9"/>
<text x="365.7" y="209.09" font-size="7.1" fill="#4D4D4D" text-anchor="end" font-weight="normal">60</text>
<line x1="367.3" y1="238.49" x2="369.5" y2="238.49" stroke="#333333" stroke-width="0.9"/>
<text x="365.7" y="241.04" font-size="7.1" fill="#4D4D4D" text-anchor="end" font-weight="normal">40</text>
<line x1="367.3" y1="270.45" x2="369.5" y2="270.45" stroke="#333333" stroke-width="0.9"/>
<text x="365.7" y="273" font-size="7.1" fill="#4D4D4D" text-anchor="end" font-weight="normal">20</text>
<line x1="367.3" y1="302.4" x2="369.5" y2="302.4" stroke="#333333" stroke-width="0.9"/>
<text x="365.7" y="304.95" font-size="7.1" fill="#4D4D4D" text-anchor="end" font-weight="normal">0</text>
<line x1="393.39" y1="316.2" x2="393.39" y2="318.4" stroke="#333333" stroke-width="0.9"/>
<text x="393.39" y="325.9" font-size="7.1" fill="#4D4D4D" text-anchor="middle" font-weight="normal">Bcell</text>
<line x1="433.22" y1="316.2" x2="433.22" y2="318.4" stroke="#333333" stroke-width="0.9"/>
<text x="433.22" y="325.9" font-size="7.1" fill="#4D4D4D" text-anchor="middle" font-weight="normal">CD4T</text>
<line x1="473.04" y1="316.2" x2="473.04" y2="318.4" stroke="#333333" stroke-width="0.9"/>
<text x="473.04" y="325.9" font-size="7.1" fill="#4D4D4D" text-anchor="middle" font-weight="normal">CD8T</text>
<line x1="512.86" y1="316.2" x2="512.86" y2="318.4" stroke="#333333" stroke-width="0.9"/>
<text x="512.86" y="325.9" font-size="7.1" fill="#4D4D4D" text-anchor="middle" font-weight="normal">Gran</text>
<line x1="552.68" y1="316.2" x2="552.68" y2="318.4" stroke="#333333" stroke-width="0.9"/>
<text x="552.68" y="325.9" font-size="7.1" fill="#4D4D4D" text-anchor="middle" font-weight="normal">Mono</text>
<line x1="592.51" y1="316.2" x2="592.51" y2="318.4" stroke="#333333" stroke-width="0.9"/>
<text x="592.51" y="325.9" font-size="7.1" fill="#4D4D4D" text-anchor="middle" font-weight="normal">NK</text>
<text x="492.95" y="335.9" font-size="8.8" fill="#000" text-anchor="middle" font-weight="normal">Cell Type</text>
<text x="353.2" y="251.95" font-size="8.8" fill="#000" text-anchor="middle" transform="rotate(-90 353.2 251.95)">Predicted Epigenetic Age</text>
<text x="369.5" y="181.4" font-size="10.4" fill="#000" text-anchor="start" font-weight="normal">Adult age</text>
<text x="347" y="180.9" font-size="10.8" fill="#000" text-anchor="start" font-weight="bold">D</text>
<text x="629.9" y="232.5" font-size="8.6" fill="#000" text-anchor="start" font-weight="normal">variable</text>
<line x1="636.55" y1="238.95" x2="636.55" y2="250.15" stroke="#333333" stroke-width="0.9"/>
<rect x="631.45" y="241.08" width="10.2" height="6.95" fill="#6495ED" stroke="#333333" stroke-width="0.9"/>
<line x1="631.45" y1="244.55" x2="641.65" y2="244.55" stroke="#333333" stroke-width="1.1"/>
<circle cx="636.55" cy="244.55" r="1.8" fill="#000"/>
<text x="648.2" y="247.05" font-size="7.1" fill="#000" text-anchor="start" font-weight="normal">Horvath</text>
<line x1="636.55" y1="252.85" x2="636.55" y2="264.05" stroke="#333333" stroke-width="0.9"/>
<rect x="631.45" y="254.97" width="10.2" height="6.95" fill="#B22222" stroke="#333333" stroke-width="0.9"/>
<line x1="631.45" y1="258.45" x2="641.65" y2="258.45" stroke="#333333" stroke-width="1.1"/>
<circle cx="636.55" cy="258.45" r="1.8" fill="#000"/>
<text x="648.2" y="260.95" font-size="7.1" fill="#000" text-anchor="start" font-weight="normal">Hannum</text>
<line x1="636.55" y1="266.75" x2="636.55" y2="277.95" stroke="#333333" stroke-width="0.9"/>
<rect x="631.45" y="268.88" width="10.2" height="6.95" fill="#228B22" stroke="#333333" stroke-width="0.9"/>
<line x1="631.45" y1="272.35" x2="641.65" y2="272.35" stroke="#333333" stroke-width="1.1"/>
<circle cx="636.55" cy="272.35" r="1.8" fill="#000"/>
<text x="648.2" y="274.85" font-size="7.1" fill="#000" text-anchor="start" font-weight="normal">SkinBlood</text>
</svg>
</body></html>
